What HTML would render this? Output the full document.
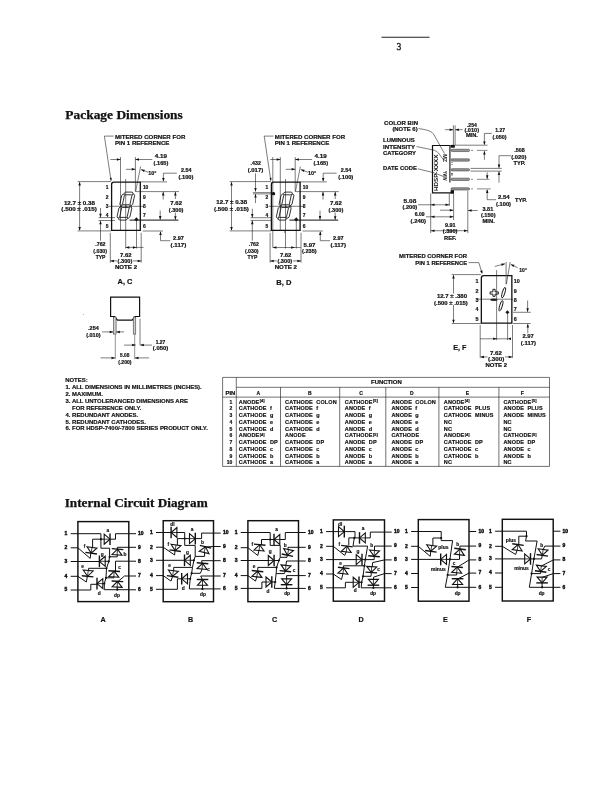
<!DOCTYPE html>
<html><head><meta charset="utf-8"><style>
html,body{margin:0;padding:0;background:#fff;}
svg{display:block;will-change:transform;}
</style></head><body>
<svg width="612" height="792" viewBox="0 0 612 792">
<line x1="381.50" y1="37.20" x2="429.50" y2="37.20" stroke="#222" stroke-width="1.1"/>
<text x="396.60" y="49.80" font-family="Liberation Serif" font-weight="normal" font-size="9.6" text-anchor="start" fill="#222" stroke="#222" stroke-width="0.35">3</text>
<text x="65.30" y="118.80" font-family="Liberation Serif" font-weight="bold" font-size="12.2" text-anchor="start" fill="#111" textLength="117.50" lengthAdjust="spacingAndGlyphs" stroke="#111" stroke-width="0.25">Package Dimensions</text>
<text x="64.70" y="506.80" font-family="Liberation Serif" font-weight="bold" font-size="12.0" text-anchor="start" fill="#111" textLength="143.00" lengthAdjust="spacingAndGlyphs" stroke="#111" stroke-width="0.25">Internal Circuit Diagram</text>
<polyline points="113.60,136.10 104.40,136.10 111.00,180.60" fill="none" stroke="#111" stroke-width="0.55" stroke-linejoin="miter"/>
<polygon points="111.20,181.00 109.74,177.98 111.72,177.69" fill="#111"/>
<text x="115.00" y="138.90" font-family="Liberation Sans" font-weight="bold" font-size="5.5" text-anchor="start" fill="#111" stroke="#111" stroke-width="0.18" textLength="70.30" lengthAdjust="spacingAndGlyphs">MITERED CORNER FOR</text>
<text x="115.00" y="145.10" font-family="Liberation Sans" font-weight="bold" font-size="5.5" text-anchor="start" fill="#111" stroke="#111" stroke-width="0.18" textLength="54.40" lengthAdjust="spacingAndGlyphs">PIN 1 REFERENCE</text>
<path d="M111.60,184.40 Q111.60,182.20 113.80,182.20 L140.30,182.20 L140.30,230.30 L111.60,230.30 Z" fill="none" stroke="#111" stroke-width="1.3"/>
<line x1="120.50" y1="157.00" x2="120.50" y2="230.00" stroke="#111" stroke-width="0.55"/>
<line x1="135.40" y1="157.00" x2="135.40" y2="191.70" stroke="#111" stroke-width="0.55"/>
<line x1="110.40" y1="159.50" x2="120.50" y2="159.50" stroke="#111" stroke-width="0.55"/>
<polygon points="120.50,159.50 116.90,160.75 116.90,158.25" fill="#111"/>
<line x1="152.30" y1="159.50" x2="135.40" y2="159.50" stroke="#111" stroke-width="0.55"/>
<polygon points="135.40,159.50 139.00,158.25 139.00,160.75" fill="#111"/>
<line x1="125.90" y1="169.30" x2="135.40" y2="169.30" stroke="#111" stroke-width="0.55"/>
<polygon points="135.40,169.30 131.80,170.55 131.80,168.05" fill="#111"/>
<line x1="140.60" y1="166.50" x2="135.60" y2="191.70" stroke="#111" stroke-width="0.55"/>
<line x1="148.00" y1="172.20" x2="141.00" y2="169.60" stroke="#111" stroke-width="0.55"/>
<polygon points="141.00,169.60 144.81,169.68 143.94,172.03" fill="#111"/>
<text x="154.70" y="157.70" font-family="Liberation Sans" font-weight="bold" font-size="4.9" text-anchor="start" fill="#111" stroke="#111" stroke-width="0.18" textLength="12.30" lengthAdjust="spacingAndGlyphs">4.19</text>
<text x="153.60" y="164.70" font-family="Liberation Sans" font-weight="bold" font-size="4.9" text-anchor="start" fill="#111" stroke="#111" stroke-width="0.18" textLength="14.70" lengthAdjust="spacingAndGlyphs">(.165)</text>
<text x="148.20" y="174.90" font-family="Liberation Sans" font-weight="bold" font-size="4.9" text-anchor="start" fill="#111" stroke="#111" stroke-width="0.18" textLength="8.20" lengthAdjust="spacingAndGlyphs">10°</text>
<text x="180.90" y="171.70" font-family="Liberation Sans" font-weight="bold" font-size="4.9" text-anchor="start" fill="#111" stroke="#111" stroke-width="0.18" textLength="10.60" lengthAdjust="spacingAndGlyphs">2.54</text>
<text x="178.40" y="178.60" font-family="Liberation Sans" font-weight="bold" font-size="4.9" text-anchor="start" fill="#111" stroke="#111" stroke-width="0.18" textLength="15.10" lengthAdjust="spacingAndGlyphs">(.100)</text>
<polyline points="176.80,173.20 163.40,173.20 163.40,181.00" fill="none" stroke="#111" stroke-width="0.55" stroke-linejoin="miter"/>
<polygon points="163.40,181.60 162.15,178.00 164.65,178.00" fill="#111"/>
<line x1="140.30" y1="181.90" x2="167.00" y2="181.90" stroke="#111" stroke-width="0.55"/>
<line x1="125.70" y1="179.00" x2="125.70" y2="248.50" stroke="#111" stroke-width="0.55"/>
<line x1="136.50" y1="219.40" x2="136.50" y2="248.50" stroke="#111" stroke-width="0.55"/>
<line x1="109.00" y1="206.30" x2="144.00" y2="206.30" stroke="#111" stroke-width="0.55"/>
<line x1="136.00" y1="191.60" x2="179.00" y2="191.60" stroke="#111" stroke-width="0.55"/>
<line x1="129.60" y1="220.10" x2="178.40" y2="220.10" stroke="#111" stroke-width="1.0"/>
<line x1="175.40" y1="199.00" x2="175.40" y2="191.80" stroke="#111" stroke-width="0.55"/>
<polygon points="175.40,191.80 176.65,195.40 174.15,195.40" fill="#111"/>
<line x1="175.40" y1="212.50" x2="175.40" y2="219.80" stroke="#111" stroke-width="0.55"/>
<polygon points="175.40,219.80 174.15,216.20 176.65,216.20" fill="#111"/>
<line x1="163.20" y1="199.50" x2="163.20" y2="191.80" stroke="#111" stroke-width="0.55"/>
<polygon points="163.20,191.80 164.45,195.40 161.95,195.40" fill="#111"/>
<line x1="160.20" y1="210.50" x2="160.20" y2="219.70" stroke="#111" stroke-width="0.55"/>
<polygon points="160.20,219.70 158.95,216.10 161.45,216.10" fill="#111"/>
<text x="170.30" y="204.50" font-family="Liberation Sans" font-weight="bold" font-size="4.9" text-anchor="start" fill="#111" stroke="#111" stroke-width="0.18" textLength="11.70" lengthAdjust="spacingAndGlyphs">7.62</text>
<text x="168.80" y="211.50" font-family="Liberation Sans" font-weight="bold" font-size="4.9" text-anchor="start" fill="#111" stroke="#111" stroke-width="0.18" textLength="14.70" lengthAdjust="spacingAndGlyphs">(.300)</text>
<line x1="142.70" y1="231.00" x2="163.00" y2="231.00" stroke="#111" stroke-width="0.55"/>
<polyline points="170.20,240.70 160.50,240.70 160.50,232.00" fill="none" stroke="#111" stroke-width="0.55" stroke-linejoin="miter"/>
<polygon points="160.50,231.30 161.75,234.90 159.25,234.90" fill="#111"/>
<text x="173.10" y="239.80" font-family="Liberation Sans" font-weight="bold" font-size="4.9" text-anchor="start" fill="#111" stroke="#111" stroke-width="0.18" textLength="10.80" lengthAdjust="spacingAndGlyphs">2.97</text>
<text x="170.60" y="246.70" font-family="Liberation Sans" font-weight="bold" font-size="4.9" text-anchor="start" fill="#111" stroke="#111" stroke-width="0.18" textLength="15.70" lengthAdjust="spacingAndGlyphs">(.117)</text>
<text x="108.50" y="188.80" font-family="Liberation Sans" font-weight="bold" font-size="4.9" text-anchor="end" fill="#111" stroke="#111" stroke-width="0.18">1</text>
<text x="142.90" y="188.80" font-family="Liberation Sans" font-weight="bold" font-size="4.9" text-anchor="start" fill="#111" stroke="#111" stroke-width="0.18">10</text>
<text x="108.50" y="199.00" font-family="Liberation Sans" font-weight="bold" font-size="4.9" text-anchor="end" fill="#111" stroke="#111" stroke-width="0.18">2</text>
<text x="142.90" y="199.00" font-family="Liberation Sans" font-weight="bold" font-size="4.9" text-anchor="start" fill="#111" stroke="#111" stroke-width="0.18">9</text>
<text x="108.50" y="208.00" font-family="Liberation Sans" font-weight="bold" font-size="4.9" text-anchor="end" fill="#111" stroke="#111" stroke-width="0.18">3</text>
<text x="142.90" y="208.00" font-family="Liberation Sans" font-weight="bold" font-size="4.9" text-anchor="start" fill="#111" stroke="#111" stroke-width="0.18">8</text>
<text x="108.50" y="216.50" font-family="Liberation Sans" font-weight="bold" font-size="4.9" text-anchor="end" fill="#111" stroke="#111" stroke-width="0.18">4</text>
<text x="142.90" y="216.50" font-family="Liberation Sans" font-weight="bold" font-size="4.9" text-anchor="start" fill="#111" stroke="#111" stroke-width="0.18">7</text>
<text x="108.50" y="227.70" font-family="Liberation Sans" font-weight="bold" font-size="4.9" text-anchor="end" fill="#111" stroke="#111" stroke-width="0.18">5</text>
<text x="142.90" y="227.70" font-family="Liberation Sans" font-weight="bold" font-size="4.9" text-anchor="start" fill="#111" stroke="#111" stroke-width="0.18">6</text>
<polygon points="124.01,193.45 125.66,192.10 132.16,192.10 133.21,193.45 131.57,194.80 125.07,194.80" fill="none" stroke="#111" stroke-width="0.85" stroke-linejoin="miter"/>
<polygon points="121.23,206.10 122.88,204.75 129.38,204.75 130.43,206.10 128.78,207.45 122.28,207.45" fill="none" stroke="#111" stroke-width="0.85" stroke-linejoin="miter"/>
<polygon points="118.45,218.75 120.09,217.40 126.59,217.40 127.65,218.75 126.00,220.10 119.50,220.10" fill="none" stroke="#111" stroke-width="0.85" stroke-linejoin="miter"/>
<polygon points="118.06,218.25 119.70,216.90 121.67,207.95 120.62,206.60 118.97,207.95 117.00,216.90" fill="none" stroke="#111" stroke-width="0.85" stroke-linejoin="miter"/>
<polygon points="128.26,218.25 129.90,216.90 131.87,207.95 130.82,206.60 129.17,207.95 127.20,216.90" fill="none" stroke="#111" stroke-width="0.85" stroke-linejoin="miter"/>
<polygon points="120.84,205.60 122.49,204.25 124.46,195.30 123.40,193.95 121.76,195.30 119.79,204.25" fill="none" stroke="#111" stroke-width="0.85" stroke-linejoin="miter"/>
<polygon points="131.04,205.60 132.69,204.25 134.66,195.30 133.60,193.95 131.96,195.30 129.99,204.25" fill="none" stroke="#111" stroke-width="0.85" stroke-linejoin="miter"/>
<polygon points="136.40,217.50 138.30,219.40 136.40,221.30 134.50,219.40" fill="#111" stroke="#111" stroke-width="0.3" stroke-linejoin="miter"/>
<circle cx="121.10" cy="206.30" r="0.8" fill="#333"/>
<circle cx="126.00" cy="206.30" r="0.8" fill="#333"/>
<circle cx="131.00" cy="206.30" r="0.8" fill="#333"/>
<line x1="110.30" y1="232.80" x2="110.30" y2="262.70" stroke="#111" stroke-width="0.55"/>
<line x1="141.20" y1="232.80" x2="141.20" y2="262.70" stroke="#111" stroke-width="0.55"/>
<text x="120.10" y="256.70" font-family="Liberation Sans" font-weight="bold" font-size="4.9" text-anchor="start" fill="#111" stroke="#111" stroke-width="0.18" textLength="11.50" lengthAdjust="spacingAndGlyphs">7.62</text>
<text x="117.60" y="262.80" font-family="Liberation Sans" font-weight="bold" font-size="4.9" text-anchor="start" fill="#111" stroke="#111" stroke-width="0.18" textLength="14.80" lengthAdjust="spacingAndGlyphs">(.300)</text>
<text x="114.90" y="269.00" font-family="Liberation Sans" font-weight="bold" font-size="4.9" text-anchor="start" fill="#111" stroke="#111" stroke-width="0.18" textLength="22.20" lengthAdjust="spacingAndGlyphs">NOTE 2</text>
<line x1="117.00" y1="260.90" x2="110.30" y2="260.90" stroke="#111" stroke-width="0.55"/>
<polygon points="110.30,260.90 113.90,259.65 113.90,262.15" fill="#111"/>
<line x1="133.00" y1="260.90" x2="141.20" y2="260.90" stroke="#111" stroke-width="0.55"/>
<polygon points="141.20,260.90 137.60,262.15 137.60,259.65" fill="#111"/>
<line x1="125.70" y1="247.40" x2="143.60" y2="247.40" stroke="#111" stroke-width="0.55"/>
<polygon points="125.70,247.40 129.30,246.15 129.30,248.65" fill="#111"/>
<polygon points="136.50,247.40 132.90,248.65 132.90,246.15" fill="#111"/>
<line x1="77.60" y1="181.60" x2="111.00" y2="181.60" stroke="#111" stroke-width="0.55"/>
<line x1="77.60" y1="230.90" x2="111.00" y2="230.90" stroke="#111" stroke-width="0.55"/>
<line x1="79.60" y1="182.50" x2="79.60" y2="230.00" stroke="#111" stroke-width="0.55"/>
<polygon points="79.60,181.80 80.85,185.40 78.35,185.40" fill="#111"/>
<polygon points="79.60,230.70 78.35,227.10 80.85,227.10" fill="#111"/>
<text x="63.90" y="204.50" font-family="Liberation Sans" font-weight="bold" font-size="4.9" text-anchor="start" fill="#111" stroke="#111" stroke-width="0.18" textLength="31.10" lengthAdjust="spacingAndGlyphs">12.7 ± 0.38</text>
<text x="61.30" y="211.40" font-family="Liberation Sans" font-weight="bold" font-size="4.9" text-anchor="start" fill="#111" stroke="#111" stroke-width="0.18" textLength="35.60" lengthAdjust="spacingAndGlyphs">(.500 ± .015)</text>
<line x1="98.60" y1="217.60" x2="115.00" y2="217.60" stroke="#111" stroke-width="0.55"/>
<line x1="98.60" y1="220.50" x2="115.00" y2="220.50" stroke="#111" stroke-width="0.55"/>
<line x1="100.50" y1="208.00" x2="100.50" y2="217.40" stroke="#111" stroke-width="0.55"/>
<polygon points="100.50,217.40 99.25,213.80 101.75,213.80" fill="#111"/>
<line x1="100.50" y1="240.70" x2="100.50" y2="220.70" stroke="#111" stroke-width="0.55"/>
<polygon points="100.50,220.70 101.75,224.30 99.25,224.30" fill="#111"/>
<text x="95.30" y="246.30" font-family="Liberation Sans" font-weight="bold" font-size="4.9" text-anchor="start" fill="#111" stroke="#111" stroke-width="0.18" textLength="10.20" lengthAdjust="spacingAndGlyphs">.762</text>
<text x="93.30" y="252.60" font-family="Liberation Sans" font-weight="bold" font-size="4.9" text-anchor="start" fill="#111" stroke="#111" stroke-width="0.18" textLength="13.70" lengthAdjust="spacingAndGlyphs">(.030)</text>
<text x="95.70" y="259.10" font-family="Liberation Sans" font-weight="bold" font-size="4.9" text-anchor="start" fill="#111" stroke="#111" stroke-width="0.18" textLength="9.80" lengthAdjust="spacingAndGlyphs">TYP</text>
<text x="117.60" y="284.30" font-family="Liberation Sans" font-weight="bold" font-size="7.2" text-anchor="start" fill="#111" stroke="#111" stroke-width="0.18" textLength="14.90" lengthAdjust="spacingAndGlyphs">A, C</text>
<polyline points="273.40,136.10 264.20,136.10 270.80,180.60" fill="none" stroke="#111" stroke-width="0.55" stroke-linejoin="miter"/>
<polygon points="271.00,181.00 269.54,177.98 271.52,177.69" fill="#111"/>
<text x="274.80" y="138.90" font-family="Liberation Sans" font-weight="bold" font-size="5.5" text-anchor="start" fill="#111" stroke="#111" stroke-width="0.18" textLength="70.30" lengthAdjust="spacingAndGlyphs">MITERED CORNER FOR</text>
<text x="274.80" y="145.10" font-family="Liberation Sans" font-weight="bold" font-size="5.5" text-anchor="start" fill="#111" stroke="#111" stroke-width="0.18" textLength="54.40" lengthAdjust="spacingAndGlyphs">PIN 1 REFERENCE</text>
<path d="M271.40,184.40 Q271.40,182.20 273.60,182.20 L300.10,182.20 L300.10,230.30 L271.40,230.30 Z" fill="none" stroke="#111" stroke-width="1.3"/>
<line x1="280.30" y1="157.00" x2="280.30" y2="230.00" stroke="#111" stroke-width="0.55"/>
<line x1="295.20" y1="157.00" x2="295.20" y2="191.70" stroke="#111" stroke-width="0.55"/>
<line x1="270.20" y1="159.50" x2="280.30" y2="159.50" stroke="#111" stroke-width="0.55"/>
<polygon points="280.30,159.50 276.70,160.75 276.70,158.25" fill="#111"/>
<line x1="312.10" y1="159.50" x2="295.20" y2="159.50" stroke="#111" stroke-width="0.55"/>
<polygon points="295.20,159.50 298.80,158.25 298.80,160.75" fill="#111"/>
<line x1="285.70" y1="169.30" x2="295.20" y2="169.30" stroke="#111" stroke-width="0.55"/>
<polygon points="295.20,169.30 291.60,170.55 291.60,168.05" fill="#111"/>
<line x1="300.40" y1="166.50" x2="295.40" y2="191.70" stroke="#111" stroke-width="0.55"/>
<line x1="307.80" y1="172.20" x2="300.80" y2="169.60" stroke="#111" stroke-width="0.55"/>
<polygon points="300.80,169.60 304.61,169.68 303.74,172.03" fill="#111"/>
<text x="314.50" y="157.70" font-family="Liberation Sans" font-weight="bold" font-size="4.9" text-anchor="start" fill="#111" stroke="#111" stroke-width="0.18" textLength="12.30" lengthAdjust="spacingAndGlyphs">4.19</text>
<text x="313.40" y="164.70" font-family="Liberation Sans" font-weight="bold" font-size="4.9" text-anchor="start" fill="#111" stroke="#111" stroke-width="0.18" textLength="14.70" lengthAdjust="spacingAndGlyphs">(.165)</text>
<text x="308.00" y="174.90" font-family="Liberation Sans" font-weight="bold" font-size="4.9" text-anchor="start" fill="#111" stroke="#111" stroke-width="0.18" textLength="8.20" lengthAdjust="spacingAndGlyphs">10°</text>
<text x="340.70" y="171.70" font-family="Liberation Sans" font-weight="bold" font-size="4.9" text-anchor="start" fill="#111" stroke="#111" stroke-width="0.18" textLength="10.60" lengthAdjust="spacingAndGlyphs">2.54</text>
<text x="338.20" y="178.60" font-family="Liberation Sans" font-weight="bold" font-size="4.9" text-anchor="start" fill="#111" stroke="#111" stroke-width="0.18" textLength="15.10" lengthAdjust="spacingAndGlyphs">(.100)</text>
<polyline points="336.60,173.20 323.20,173.20 323.20,181.00" fill="none" stroke="#111" stroke-width="0.55" stroke-linejoin="miter"/>
<polygon points="323.20,181.60 321.95,178.00 324.45,178.00" fill="#111"/>
<line x1="300.10" y1="181.90" x2="326.80" y2="181.90" stroke="#111" stroke-width="0.55"/>
<line x1="285.50" y1="179.00" x2="285.50" y2="248.50" stroke="#111" stroke-width="0.55"/>
<line x1="296.30" y1="219.40" x2="296.30" y2="248.50" stroke="#111" stroke-width="0.55"/>
<line x1="268.80" y1="206.30" x2="303.80" y2="206.30" stroke="#111" stroke-width="0.55"/>
<line x1="295.80" y1="191.60" x2="338.80" y2="191.60" stroke="#111" stroke-width="0.55"/>
<line x1="289.40" y1="220.10" x2="338.20" y2="220.10" stroke="#111" stroke-width="1.0"/>
<line x1="335.20" y1="199.00" x2="335.20" y2="191.80" stroke="#111" stroke-width="0.55"/>
<polygon points="335.20,191.80 336.45,195.40 333.95,195.40" fill="#111"/>
<line x1="335.20" y1="212.50" x2="335.20" y2="219.80" stroke="#111" stroke-width="0.55"/>
<polygon points="335.20,219.80 333.95,216.20 336.45,216.20" fill="#111"/>
<line x1="323.00" y1="199.50" x2="323.00" y2="191.80" stroke="#111" stroke-width="0.55"/>
<polygon points="323.00,191.80 324.25,195.40 321.75,195.40" fill="#111"/>
<line x1="320.00" y1="210.50" x2="320.00" y2="219.70" stroke="#111" stroke-width="0.55"/>
<polygon points="320.00,219.70 318.75,216.10 321.25,216.10" fill="#111"/>
<text x="330.10" y="204.50" font-family="Liberation Sans" font-weight="bold" font-size="4.9" text-anchor="start" fill="#111" stroke="#111" stroke-width="0.18" textLength="11.70" lengthAdjust="spacingAndGlyphs">7.62</text>
<text x="328.60" y="211.50" font-family="Liberation Sans" font-weight="bold" font-size="4.9" text-anchor="start" fill="#111" stroke="#111" stroke-width="0.18" textLength="14.70" lengthAdjust="spacingAndGlyphs">(.300)</text>
<line x1="302.50" y1="231.00" x2="322.80" y2="231.00" stroke="#111" stroke-width="0.55"/>
<polyline points="330.00,240.70 320.30,240.70 320.30,232.00" fill="none" stroke="#111" stroke-width="0.55" stroke-linejoin="miter"/>
<polygon points="320.30,231.30 321.55,234.90 319.05,234.90" fill="#111"/>
<text x="332.90" y="239.80" font-family="Liberation Sans" font-weight="bold" font-size="4.9" text-anchor="start" fill="#111" stroke="#111" stroke-width="0.18" textLength="10.80" lengthAdjust="spacingAndGlyphs">2.97</text>
<text x="330.40" y="246.70" font-family="Liberation Sans" font-weight="bold" font-size="4.9" text-anchor="start" fill="#111" stroke="#111" stroke-width="0.18" textLength="15.70" lengthAdjust="spacingAndGlyphs">(.117)</text>
<text x="268.30" y="188.80" font-family="Liberation Sans" font-weight="bold" font-size="4.9" text-anchor="end" fill="#111" stroke="#111" stroke-width="0.18">1</text>
<text x="302.70" y="188.80" font-family="Liberation Sans" font-weight="bold" font-size="4.9" text-anchor="start" fill="#111" stroke="#111" stroke-width="0.18">10</text>
<text x="268.30" y="199.00" font-family="Liberation Sans" font-weight="bold" font-size="4.9" text-anchor="end" fill="#111" stroke="#111" stroke-width="0.18">2</text>
<text x="302.70" y="199.00" font-family="Liberation Sans" font-weight="bold" font-size="4.9" text-anchor="start" fill="#111" stroke="#111" stroke-width="0.18">9</text>
<text x="268.30" y="208.00" font-family="Liberation Sans" font-weight="bold" font-size="4.9" text-anchor="end" fill="#111" stroke="#111" stroke-width="0.18">3</text>
<text x="302.70" y="208.00" font-family="Liberation Sans" font-weight="bold" font-size="4.9" text-anchor="start" fill="#111" stroke="#111" stroke-width="0.18">8</text>
<text x="268.30" y="216.50" font-family="Liberation Sans" font-weight="bold" font-size="4.9" text-anchor="end" fill="#111" stroke="#111" stroke-width="0.18">4</text>
<text x="302.70" y="216.50" font-family="Liberation Sans" font-weight="bold" font-size="4.9" text-anchor="start" fill="#111" stroke="#111" stroke-width="0.18">7</text>
<text x="268.30" y="227.70" font-family="Liberation Sans" font-weight="bold" font-size="4.9" text-anchor="end" fill="#111" stroke="#111" stroke-width="0.18">5</text>
<text x="302.70" y="227.70" font-family="Liberation Sans" font-weight="bold" font-size="4.9" text-anchor="start" fill="#111" stroke="#111" stroke-width="0.18">6</text>
<polygon points="283.31,193.45 284.96,192.10 291.46,192.10 292.51,193.45 290.87,194.80 284.37,194.80" fill="none" stroke="#111" stroke-width="0.85" stroke-linejoin="miter"/>
<polygon points="280.53,206.10 282.18,204.75 288.68,204.75 289.73,206.10 288.08,207.45 281.58,207.45" fill="none" stroke="#111" stroke-width="0.85" stroke-linejoin="miter"/>
<polygon points="277.75,218.75 279.39,217.40 285.89,217.40 286.95,218.75 285.30,220.10 278.80,220.10" fill="none" stroke="#111" stroke-width="0.85" stroke-linejoin="miter"/>
<polygon points="277.36,218.25 279.00,216.90 280.97,207.95 279.92,206.60 278.27,207.95 276.30,216.90" fill="none" stroke="#111" stroke-width="0.85" stroke-linejoin="miter"/>
<polygon points="287.56,218.25 289.20,216.90 291.17,207.95 290.12,206.60 288.47,207.95 286.50,216.90" fill="none" stroke="#111" stroke-width="0.85" stroke-linejoin="miter"/>
<polygon points="280.14,205.60 281.79,204.25 283.76,195.30 282.70,193.95 281.06,195.30 279.09,204.25" fill="none" stroke="#111" stroke-width="0.85" stroke-linejoin="miter"/>
<polygon points="290.34,205.60 291.99,204.25 293.96,195.30 292.90,193.95 291.26,195.30 289.29,204.25" fill="none" stroke="#111" stroke-width="0.85" stroke-linejoin="miter"/>
<polygon points="296.20,217.50 298.10,219.40 296.20,221.30 294.30,219.40" fill="#111" stroke="#111" stroke-width="0.3" stroke-linejoin="miter"/>
<circle cx="280.90" cy="206.30" r="0.8" fill="#333"/>
<circle cx="285.80" cy="206.30" r="0.8" fill="#333"/>
<circle cx="290.80" cy="206.30" r="0.8" fill="#333"/>
<line x1="270.10" y1="232.80" x2="270.10" y2="262.70" stroke="#111" stroke-width="0.55"/>
<line x1="301.00" y1="232.80" x2="301.00" y2="262.70" stroke="#111" stroke-width="0.55"/>
<text x="279.90" y="256.70" font-family="Liberation Sans" font-weight="bold" font-size="4.9" text-anchor="start" fill="#111" stroke="#111" stroke-width="0.18" textLength="11.50" lengthAdjust="spacingAndGlyphs">7.62</text>
<text x="277.40" y="262.80" font-family="Liberation Sans" font-weight="bold" font-size="4.9" text-anchor="start" fill="#111" stroke="#111" stroke-width="0.18" textLength="14.80" lengthAdjust="spacingAndGlyphs">(.300)</text>
<text x="274.70" y="269.00" font-family="Liberation Sans" font-weight="bold" font-size="4.9" text-anchor="start" fill="#111" stroke="#111" stroke-width="0.18" textLength="22.20" lengthAdjust="spacingAndGlyphs">NOTE 2</text>
<line x1="276.80" y1="260.90" x2="270.10" y2="260.90" stroke="#111" stroke-width="0.55"/>
<polygon points="270.10,260.90 273.70,259.65 273.70,262.15" fill="#111"/>
<line x1="292.80" y1="260.90" x2="301.00" y2="260.90" stroke="#111" stroke-width="0.55"/>
<polygon points="301.00,260.90 297.40,262.15 297.40,259.65" fill="#111"/>
<line x1="272.80" y1="157.00" x2="272.80" y2="247.50" stroke="#111" stroke-width="0.55"/>
<line x1="284.80" y1="230.00" x2="284.80" y2="233.00" stroke="#111" stroke-width="0.55"/>
<line x1="272.80" y1="247.50" x2="300.80" y2="247.50" stroke="#111" stroke-width="0.55"/>
<polygon points="272.80,247.50 276.40,246.25 276.40,248.75" fill="#111"/>
<polygon points="294.80,247.50 291.20,248.75 291.20,246.25" fill="#111"/>
<text x="303.60" y="246.50" font-family="Liberation Sans" font-weight="bold" font-size="4.9" text-anchor="start" fill="#111" stroke="#111" stroke-width="0.18" textLength="11.80" lengthAdjust="spacingAndGlyphs">5.97</text>
<text x="302.00" y="253.00" font-family="Liberation Sans" font-weight="bold" font-size="4.9" text-anchor="start" fill="#111" stroke="#111" stroke-width="0.18" textLength="14.70" lengthAdjust="spacingAndGlyphs">(.235)</text>
<line x1="229.60" y1="181.60" x2="271.00" y2="181.60" stroke="#111" stroke-width="0.55"/>
<line x1="229.60" y1="230.90" x2="271.00" y2="230.90" stroke="#111" stroke-width="0.55"/>
<line x1="231.50" y1="182.50" x2="231.50" y2="230.00" stroke="#111" stroke-width="0.55"/>
<polygon points="231.50,181.80 232.75,185.40 230.25,185.40" fill="#111"/>
<polygon points="231.50,230.70 230.25,227.10 232.75,227.10" fill="#111"/>
<text x="216.30" y="204.40" font-family="Liberation Sans" font-weight="bold" font-size="4.9" text-anchor="start" fill="#111" stroke="#111" stroke-width="0.18" textLength="30.90" lengthAdjust="spacingAndGlyphs">12.7 ± 0.38</text>
<text x="214.00" y="211.30" font-family="Liberation Sans" font-weight="bold" font-size="4.9" text-anchor="start" fill="#111" stroke="#111" stroke-width="0.18" textLength="34.90" lengthAdjust="spacingAndGlyphs">(.500 ± .015)</text>
<text x="250.60" y="165.10" font-family="Liberation Sans" font-weight="bold" font-size="4.9" text-anchor="start" fill="#111" stroke="#111" stroke-width="0.18" textLength="10.30" lengthAdjust="spacingAndGlyphs">.432</text>
<text x="247.70" y="171.90" font-family="Liberation Sans" font-weight="bold" font-size="4.9" text-anchor="start" fill="#111" stroke="#111" stroke-width="0.18" textLength="15.50" lengthAdjust="spacingAndGlyphs">(.017)</text>
<line x1="255.50" y1="173.30" x2="255.50" y2="191.60" stroke="#111" stroke-width="0.55"/>
<polygon points="255.50,191.60 254.25,188.00 256.75,188.00" fill="#111"/>
<line x1="255.50" y1="203.00" x2="255.50" y2="194.00" stroke="#111" stroke-width="0.55"/>
<polygon points="255.50,194.00 256.75,197.60 254.25,197.60" fill="#111"/>
<line x1="252.90" y1="192.60" x2="274.00" y2="192.60" stroke="#111" stroke-width="0.55"/>
<line x1="252.90" y1="193.90" x2="274.00" y2="193.90" stroke="#111" stroke-width="0.55"/>
<circle cx="273.60" cy="193.70" r="1.6" fill="#111"/>
<line x1="250.60" y1="217.70" x2="271.00" y2="217.70" stroke="#111" stroke-width="0.55"/>
<line x1="250.60" y1="220.40" x2="271.00" y2="220.40" stroke="#111" stroke-width="0.55"/>
<line x1="252.30" y1="208.80" x2="252.30" y2="217.50" stroke="#111" stroke-width="0.55"/>
<polygon points="252.30,217.50 251.05,213.90 253.55,213.90" fill="#111"/>
<line x1="252.30" y1="240.70" x2="252.30" y2="220.60" stroke="#111" stroke-width="0.55"/>
<polygon points="252.30,220.60 253.55,224.20 251.05,224.20" fill="#111"/>
<text x="248.80" y="246.30" font-family="Liberation Sans" font-weight="bold" font-size="4.9" text-anchor="start" fill="#111" stroke="#111" stroke-width="0.18" textLength="10.00" lengthAdjust="spacingAndGlyphs">.762</text>
<text x="244.90" y="252.60" font-family="Liberation Sans" font-weight="bold" font-size="4.9" text-anchor="start" fill="#111" stroke="#111" stroke-width="0.18" textLength="13.70" lengthAdjust="spacingAndGlyphs">(.030)</text>
<text x="247.50" y="259.10" font-family="Liberation Sans" font-weight="bold" font-size="4.9" text-anchor="start" fill="#111" stroke="#111" stroke-width="0.18" textLength="9.80" lengthAdjust="spacingAndGlyphs">TYP</text>
<text x="276.30" y="284.80" font-family="Liberation Sans" font-weight="bold" font-size="7.2" text-anchor="start" fill="#111" stroke="#111" stroke-width="0.18" textLength="15.10" lengthAdjust="spacingAndGlyphs">B, D</text>
<rect x="77.90" y="521.60" width="50.90" height="80.00" fill="none" stroke="#111" stroke-width="1.45"/>
<line x1="70.70" y1="533.70" x2="77.90" y2="533.70" stroke="#111" stroke-width="1.0"/>
<text x="67.30" y="535.05" font-family="Liberation Sans" font-weight="bold" font-size="5.0" text-anchor="end" fill="#111" stroke="#111" stroke-width="0.18" style="stroke-width:0.4px">1</text>
<line x1="70.70" y1="547.80" x2="77.90" y2="547.80" stroke="#111" stroke-width="1.0"/>
<text x="67.30" y="549.15" font-family="Liberation Sans" font-weight="bold" font-size="5.0" text-anchor="end" fill="#111" stroke="#111" stroke-width="0.18" style="stroke-width:0.4px">2</text>
<line x1="70.70" y1="561.50" x2="77.90" y2="561.50" stroke="#111" stroke-width="1.0"/>
<text x="67.30" y="562.85" font-family="Liberation Sans" font-weight="bold" font-size="5.0" text-anchor="end" fill="#111" stroke="#111" stroke-width="0.18" style="stroke-width:0.4px">3</text>
<line x1="70.70" y1="576.30" x2="77.90" y2="576.30" stroke="#111" stroke-width="1.0"/>
<text x="67.30" y="577.65" font-family="Liberation Sans" font-weight="bold" font-size="5.0" text-anchor="end" fill="#111" stroke="#111" stroke-width="0.18" style="stroke-width:0.4px">4</text>
<line x1="70.70" y1="590.00" x2="77.90" y2="590.00" stroke="#111" stroke-width="1.0"/>
<text x="67.30" y="591.35" font-family="Liberation Sans" font-weight="bold" font-size="5.0" text-anchor="end" fill="#111" stroke="#111" stroke-width="0.18" style="stroke-width:0.4px">5</text>
<line x1="128.80" y1="533.70" x2="136.00" y2="533.70" stroke="#111" stroke-width="1.0"/>
<text x="138.10" y="535.05" font-family="Liberation Sans" font-weight="bold" font-size="5.0" text-anchor="start" fill="#111" stroke="#111" stroke-width="0.18" style="stroke-width:0.4px">10</text>
<line x1="128.80" y1="547.30" x2="136.00" y2="547.30" stroke="#111" stroke-width="1.0"/>
<text x="138.10" y="548.65" font-family="Liberation Sans" font-weight="bold" font-size="5.0" text-anchor="start" fill="#111" stroke="#111" stroke-width="0.18" style="stroke-width:0.4px">9</text>
<line x1="128.80" y1="561.20" x2="136.00" y2="561.20" stroke="#111" stroke-width="1.0"/>
<text x="138.10" y="562.55" font-family="Liberation Sans" font-weight="bold" font-size="5.0" text-anchor="start" fill="#111" stroke="#111" stroke-width="0.18" style="stroke-width:0.4px">8</text>
<line x1="128.80" y1="576.00" x2="136.00" y2="576.00" stroke="#111" stroke-width="1.0"/>
<text x="138.10" y="577.35" font-family="Liberation Sans" font-weight="bold" font-size="5.0" text-anchor="start" fill="#111" stroke="#111" stroke-width="0.18" style="stroke-width:0.4px">7</text>
<line x1="128.80" y1="589.80" x2="136.00" y2="589.80" stroke="#111" stroke-width="1.0"/>
<text x="138.10" y="591.15" font-family="Liberation Sans" font-weight="bold" font-size="5.0" text-anchor="start" fill="#111" stroke="#111" stroke-width="0.18" style="stroke-width:0.4px">6</text>
<polyline points="77.90,533.70 100.90,533.70 100.90,548.20 109.60,548.20 109.60,556.80" fill="none" stroke="#111" stroke-width="1.0" stroke-linejoin="miter"/>
<polyline points="92.60,547.00 92.60,539.20 104.30,539.20" fill="none" stroke="#111" stroke-width="1.0" stroke-linejoin="miter"/>
<polygon points="104.20,544.20 104.20,534.20 110.00,539.20" fill="none" stroke="#111" stroke-width="1.1" stroke-linejoin="miter"/>
<line x1="104.20" y1="539.20" x2="110.00" y2="539.20" stroke="#111" stroke-width="0.8"/>
<line x1="110.00" y1="545.00" x2="110.00" y2="533.40" stroke="#111" stroke-width="1.4000000000000001"/>
<polyline points="109.80,539.20 115.50,539.20 115.50,533.70 128.80,533.70" fill="none" stroke="#111" stroke-width="1.0" stroke-linejoin="miter"/>
<polygon points="87.05,546.73 96.95,548.12 91.20,553.17" fill="none" stroke="#111" stroke-width="1.1" stroke-linejoin="miter"/>
<line x1="92.00" y1="547.43" x2="91.20" y2="553.17" stroke="#111" stroke-width="0.8"/>
<line x1="85.45" y1="552.36" x2="96.94" y2="553.98" stroke="#111" stroke-width="1.4000000000000001"/>
<polyline points="90.80,553.20 90.20,558.40 77.90,547.80" fill="none" stroke="#111" stroke-width="1.0" stroke-linejoin="miter"/>
<polygon points="122.03,555.32 112.07,554.45 117.55,549.11" fill="none" stroke="#111" stroke-width="1.1" stroke-linejoin="miter"/>
<line x1="117.05" y1="554.89" x2="117.55" y2="549.11" stroke="#111" stroke-width="0.8"/>
<line x1="123.33" y1="549.62" x2="111.77" y2="548.61" stroke="#111" stroke-width="1.4000000000000001"/>
<polyline points="117.30,549.20 117.30,547.30 128.80,547.30" fill="none" stroke="#111" stroke-width="1.0" stroke-linejoin="miter"/>
<polyline points="117.30,554.60 117.30,556.80 109.60,556.80" fill="none" stroke="#111" stroke-width="1.0" stroke-linejoin="miter"/>
<polygon points="105.20,556.30 105.20,566.30 99.40,561.30" fill="none" stroke="#111" stroke-width="1.1" stroke-linejoin="miter"/>
<line x1="105.20" y1="561.30" x2="99.40" y2="561.30" stroke="#111" stroke-width="0.8"/>
<line x1="99.40" y1="555.50" x2="99.40" y2="567.10" stroke="#111" stroke-width="1.4000000000000001"/>
<polyline points="99.60,561.50 77.90,561.50" fill="none" stroke="#111" stroke-width="1.0" stroke-linejoin="miter"/>
<polyline points="104.90,561.30 108.80,561.30" fill="none" stroke="#111" stroke-width="1.0" stroke-linejoin="miter"/>
<polyline points="109.60,556.80 108.80,561.50 106.50,568.30 106.00,577.80 104.30,583.60 104.30,589.70 128.80,589.70" fill="none" stroke="#111" stroke-width="1.0" stroke-linejoin="miter"/>
<polygon points="83.23,569.99 93.18,571.04 87.60,576.28" fill="none" stroke="#111" stroke-width="1.1" stroke-linejoin="miter"/>
<line x1="88.20" y1="570.52" x2="87.60" y2="576.28" stroke="#111" stroke-width="0.8"/>
<line x1="81.83" y1="575.68" x2="93.37" y2="576.89" stroke="#111" stroke-width="1.4000000000000001"/>
<polyline points="88.60,570.80 88.60,568.30 106.50,568.30" fill="none" stroke="#111" stroke-width="1.0" stroke-linejoin="miter"/>
<polyline points="87.40,576.20 86.30,582.00 77.90,576.30" fill="none" stroke="#111" stroke-width="1.0" stroke-linejoin="miter"/>
<polygon points="118.79,577.24 108.81,576.54 114.20,571.11" fill="none" stroke="#111" stroke-width="1.1" stroke-linejoin="miter"/>
<line x1="113.80" y1="576.89" x2="114.20" y2="571.11" stroke="#111" stroke-width="0.8"/>
<line x1="119.99" y1="571.51" x2="108.42" y2="570.70" stroke="#111" stroke-width="1.4000000000000001"/>
<polyline points="115.50,571.40 115.50,561.20 128.80,561.20" fill="none" stroke="#111" stroke-width="1.0" stroke-linejoin="miter"/>
<polyline points="114.00,576.60 114.00,577.80 106.00,577.80" fill="none" stroke="#111" stroke-width="1.0" stroke-linejoin="miter"/>
<polygon points="102.80,578.60 102.80,588.60 97.00,583.60" fill="none" stroke="#111" stroke-width="1.1" stroke-linejoin="miter"/>
<line x1="102.80" y1="583.60" x2="97.00" y2="583.60" stroke="#111" stroke-width="0.8"/>
<line x1="97.00" y1="577.80" x2="97.00" y2="589.40" stroke="#111" stroke-width="1.4000000000000001"/>
<polyline points="97.30,584.30 90.80,584.30 90.80,590.00 77.90,590.00" fill="none" stroke="#111" stroke-width="1.0" stroke-linejoin="miter"/>
<polyline points="102.50,583.60 104.30,583.60" fill="none" stroke="#111" stroke-width="1.0" stroke-linejoin="miter"/>
<polygon points="122.14,587.36 112.16,586.83 117.45,581.30" fill="none" stroke="#111" stroke-width="1.1" stroke-linejoin="miter"/>
<line x1="117.15" y1="587.10" x2="117.45" y2="581.30" stroke="#111" stroke-width="0.8"/>
<line x1="123.24" y1="581.61" x2="111.66" y2="581.00" stroke="#111" stroke-width="1.4000000000000001"/>
<polyline points="117.80,581.60 124.50,576.00 128.80,576.00" fill="none" stroke="#111" stroke-width="1.0" stroke-linejoin="miter"/>
<polyline points="117.30,586.80 117.30,589.70" fill="none" stroke="#111" stroke-width="1.0" stroke-linejoin="miter"/>
<circle cx="100.90" cy="539.20" r="1.1" fill="#111"/>
<circle cx="109.60" cy="556.80" r="1.1" fill="#111"/>
<circle cx="108.80" cy="561.40" r="1.1" fill="#111"/>
<circle cx="106.50" cy="568.30" r="1.1" fill="#111"/>
<circle cx="106.00" cy="577.80" r="1.1" fill="#111"/>
<circle cx="104.30" cy="583.60" r="1.1" fill="#111"/>
<circle cx="117.30" cy="589.70" r="1.1" fill="#111"/>
<text x="107.90" y="532.20" font-family="Liberation Sans" font-weight="bold" font-size="4.8" text-anchor="middle" fill="#111" stroke="#111" stroke-width="0.18">a</text>
<text x="84.50" y="548.30" font-family="Liberation Sans" font-weight="bold" font-size="4.8" text-anchor="middle" fill="#111" stroke="#111" stroke-width="0.18">f</text>
<text x="102.20" y="555.50" font-family="Liberation Sans" font-weight="bold" font-size="4.8" text-anchor="middle" fill="#111" stroke="#111" stroke-width="0.18">g</text>
<text x="125.00" y="556.40" font-family="Liberation Sans" font-weight="bold" font-size="4.8" text-anchor="middle" fill="#111" stroke="#111" stroke-width="0.18">b</text>
<text x="82.70" y="568.10" font-family="Liberation Sans" font-weight="bold" font-size="4.8" text-anchor="middle" fill="#111" stroke="#111" stroke-width="0.18">e</text>
<text x="119.60" y="569.00" font-family="Liberation Sans" font-weight="bold" font-size="4.8" text-anchor="middle" fill="#111" stroke="#111" stroke-width="0.18">c</text>
<text x="99.20" y="594.80" font-family="Liberation Sans" font-weight="bold" font-size="4.8" text-anchor="middle" fill="#111" stroke="#111" stroke-width="0.18">d</text>
<text x="116.90" y="596.60" font-family="Liberation Sans" font-weight="bold" font-size="4.8" text-anchor="middle" fill="#111" stroke="#111" stroke-width="0.18">dp</text>
<text x="103.15" y="621.50" font-family="Liberation Sans" font-weight="bold" font-size="7.2" text-anchor="middle" fill="#111" stroke="#111" stroke-width="0.18">A</text>
<rect x="163.20" y="520.70" width="50.30" height="81.00" fill="none" stroke="#111" stroke-width="1.45"/>
<line x1="156.00" y1="532.50" x2="163.20" y2="532.50" stroke="#111" stroke-width="1.0"/>
<text x="152.80" y="533.85" font-family="Liberation Sans" font-weight="bold" font-size="5.0" text-anchor="end" fill="#111" stroke="#111" stroke-width="0.18" style="stroke-width:0.4px">1</text>
<line x1="156.00" y1="547.20" x2="163.20" y2="547.20" stroke="#111" stroke-width="1.0"/>
<text x="152.80" y="548.55" font-family="Liberation Sans" font-weight="bold" font-size="5.0" text-anchor="end" fill="#111" stroke="#111" stroke-width="0.18" style="stroke-width:0.4px">2</text>
<line x1="156.00" y1="560.30" x2="163.20" y2="560.30" stroke="#111" stroke-width="1.0"/>
<text x="152.80" y="561.65" font-family="Liberation Sans" font-weight="bold" font-size="5.0" text-anchor="end" fill="#111" stroke="#111" stroke-width="0.18" style="stroke-width:0.4px">3</text>
<line x1="156.00" y1="575.60" x2="163.20" y2="575.60" stroke="#111" stroke-width="1.0"/>
<text x="152.80" y="576.95" font-family="Liberation Sans" font-weight="bold" font-size="5.0" text-anchor="end" fill="#111" stroke="#111" stroke-width="0.18" style="stroke-width:0.4px">4</text>
<line x1="156.00" y1="589.30" x2="163.20" y2="589.30" stroke="#111" stroke-width="1.0"/>
<text x="152.80" y="590.65" font-family="Liberation Sans" font-weight="bold" font-size="5.0" text-anchor="end" fill="#111" stroke="#111" stroke-width="0.18" style="stroke-width:0.4px">5</text>
<line x1="213.50" y1="533.10" x2="220.70" y2="533.10" stroke="#111" stroke-width="1.0"/>
<text x="222.90" y="534.45" font-family="Liberation Sans" font-weight="bold" font-size="5.0" text-anchor="start" fill="#111" stroke="#111" stroke-width="0.18" style="stroke-width:0.4px">10</text>
<line x1="213.50" y1="546.50" x2="220.70" y2="546.50" stroke="#111" stroke-width="1.0"/>
<text x="222.90" y="547.85" font-family="Liberation Sans" font-weight="bold" font-size="5.0" text-anchor="start" fill="#111" stroke="#111" stroke-width="0.18" style="stroke-width:0.4px">9</text>
<line x1="213.50" y1="560.70" x2="220.70" y2="560.70" stroke="#111" stroke-width="1.0"/>
<text x="222.90" y="562.05" font-family="Liberation Sans" font-weight="bold" font-size="5.0" text-anchor="start" fill="#111" stroke="#111" stroke-width="0.18" style="stroke-width:0.4px">8</text>
<line x1="213.50" y1="576.00" x2="220.70" y2="576.00" stroke="#111" stroke-width="1.0"/>
<text x="222.90" y="577.35" font-family="Liberation Sans" font-weight="bold" font-size="5.0" text-anchor="start" fill="#111" stroke="#111" stroke-width="0.18" style="stroke-width:0.4px">7</text>
<line x1="213.50" y1="588.90" x2="220.70" y2="588.90" stroke="#111" stroke-width="1.0"/>
<text x="222.90" y="590.25" font-family="Liberation Sans" font-weight="bold" font-size="5.0" text-anchor="start" fill="#111" stroke="#111" stroke-width="0.18" style="stroke-width:0.4px">6</text>
<polygon points="176.90,527.50 176.90,537.50 171.10,532.50" fill="none" stroke="#111" stroke-width="1.1" stroke-linejoin="miter"/>
<line x1="176.90" y1="532.50" x2="171.10" y2="532.50" stroke="#111" stroke-width="0.8"/>
<line x1="171.10" y1="526.70" x2="171.10" y2="538.30" stroke="#111" stroke-width="1.4000000000000001"/>
<polyline points="171.40,532.50 163.20,532.50" fill="none" stroke="#111" stroke-width="1.0" stroke-linejoin="miter"/>
<polyline points="176.60,532.50 184.70,532.50 184.70,545.40 195.20,545.40 195.20,556.40" fill="none" stroke="#111" stroke-width="1.0" stroke-linejoin="miter"/>
<polyline points="177.40,545.00 177.40,538.60 189.90,538.60" fill="none" stroke="#111" stroke-width="1.0" stroke-linejoin="miter"/>
<polygon points="189.50,543.60 189.50,533.60 195.30,538.60" fill="none" stroke="#111" stroke-width="1.1" stroke-linejoin="miter"/>
<line x1="189.50" y1="538.60" x2="195.30" y2="538.60" stroke="#111" stroke-width="0.8"/>
<line x1="195.30" y1="544.40" x2="195.30" y2="532.80" stroke="#111" stroke-width="1.4000000000000001"/>
<polyline points="195.00,538.60 201.60,538.60 201.60,533.10 213.50,533.10" fill="none" stroke="#111" stroke-width="1.0" stroke-linejoin="miter"/>
<polygon points="171.05,544.23 180.95,545.62 175.20,550.67" fill="none" stroke="#111" stroke-width="1.1" stroke-linejoin="miter"/>
<line x1="176.00" y1="544.93" x2="175.20" y2="550.67" stroke="#111" stroke-width="0.8"/>
<line x1="169.45" y1="549.86" x2="180.94" y2="551.48" stroke="#111" stroke-width="1.4000000000000001"/>
<polyline points="175.00,550.60 174.60,555.00 163.20,547.20" fill="none" stroke="#111" stroke-width="1.0" stroke-linejoin="miter"/>
<polygon points="208.95,553.62 199.25,551.20 205.50,546.79" fill="none" stroke="#111" stroke-width="1.1" stroke-linejoin="miter"/>
<line x1="204.10" y1="552.41" x2="205.50" y2="546.79" stroke="#111" stroke-width="0.8"/>
<line x1="211.13" y1="548.19" x2="199.87" y2="545.38" stroke="#111" stroke-width="1.4000000000000001"/>
<polyline points="205.70,547.00 213.00,546.50" fill="none" stroke="#111" stroke-width="1.0" stroke-linejoin="miter"/>
<polyline points="204.60,552.40 204.60,556.40 195.20,556.40" fill="none" stroke="#111" stroke-width="1.0" stroke-linejoin="miter"/>
<polygon points="190.30,555.30 190.30,565.30 184.50,560.30" fill="none" stroke="#111" stroke-width="1.1" stroke-linejoin="miter"/>
<line x1="190.30" y1="560.30" x2="184.50" y2="560.30" stroke="#111" stroke-width="0.8"/>
<line x1="184.50" y1="554.50" x2="184.50" y2="566.10" stroke="#111" stroke-width="1.4000000000000001"/>
<polyline points="184.80,560.30 163.20,560.30" fill="none" stroke="#111" stroke-width="1.0" stroke-linejoin="miter"/>
<polyline points="190.00,560.30 193.90,560.30" fill="none" stroke="#111" stroke-width="1.0" stroke-linejoin="miter"/>
<polyline points="195.20,556.40 193.90,560.30 192.50,567.40 191.60,573.30 190.20,578.80 189.30,588.90 213.50,588.90" fill="none" stroke="#111" stroke-width="1.0" stroke-linejoin="miter"/>
<polygon points="168.45,570.03 178.35,571.42 172.60,576.47" fill="none" stroke="#111" stroke-width="1.1" stroke-linejoin="miter"/>
<line x1="173.40" y1="570.73" x2="172.60" y2="576.47" stroke="#111" stroke-width="0.8"/>
<line x1="166.85" y1="575.66" x2="178.34" y2="577.28" stroke="#111" stroke-width="1.4000000000000001"/>
<polyline points="173.70,571.00 173.70,567.40 192.50,567.40" fill="none" stroke="#111" stroke-width="1.0" stroke-linejoin="miter"/>
<polyline points="172.60,576.30 171.00,581.10 163.20,575.60" fill="none" stroke="#111" stroke-width="1.0" stroke-linejoin="miter"/>
<polygon points="207.03,569.52 197.07,568.65 202.55,563.31" fill="none" stroke="#111" stroke-width="1.1" stroke-linejoin="miter"/>
<line x1="202.05" y1="569.09" x2="202.55" y2="563.31" stroke="#111" stroke-width="0.8"/>
<line x1="208.33" y1="563.82" x2="196.77" y2="562.81" stroke="#111" stroke-width="1.4000000000000001"/>
<polyline points="202.00,563.60 201.60,560.70 213.50,560.70" fill="none" stroke="#111" stroke-width="1.0" stroke-linejoin="miter"/>
<polyline points="202.30,568.80 200.30,573.30 191.60,573.30" fill="none" stroke="#111" stroke-width="1.0" stroke-linejoin="miter"/>
<polygon points="187.50,573.80 187.50,583.80 181.70,578.80" fill="none" stroke="#111" stroke-width="1.1" stroke-linejoin="miter"/>
<line x1="187.50" y1="578.80" x2="181.70" y2="578.80" stroke="#111" stroke-width="0.8"/>
<line x1="181.70" y1="573.00" x2="181.70" y2="584.60" stroke="#111" stroke-width="1.4000000000000001"/>
<polyline points="182.00,578.80 177.40,578.80 177.40,589.30 163.20,589.30" fill="none" stroke="#111" stroke-width="1.0" stroke-linejoin="miter"/>
<polyline points="187.20,578.80 190.20,578.80" fill="none" stroke="#111" stroke-width="1.0" stroke-linejoin="miter"/>
<polygon points="207.50,585.30 197.50,585.30 202.50,579.50" fill="none" stroke="#111" stroke-width="1.1" stroke-linejoin="miter"/>
<line x1="202.50" y1="585.30" x2="202.50" y2="579.50" stroke="#111" stroke-width="0.8"/>
<line x1="208.30" y1="579.50" x2="196.70" y2="579.50" stroke="#111" stroke-width="1.4000000000000001"/>
<polyline points="202.50,579.80 200.70,576.00 213.50,576.00" fill="none" stroke="#111" stroke-width="1.0" stroke-linejoin="miter"/>
<polyline points="202.50,585.00 202.50,588.90" fill="none" stroke="#111" stroke-width="1.0" stroke-linejoin="miter"/>
<circle cx="184.70" cy="538.60" r="1.1" fill="#111"/>
<circle cx="193.90" cy="560.30" r="1.1" fill="#111"/>
<circle cx="191.60" cy="573.30" r="1.1" fill="#111"/>
<circle cx="190.20" cy="578.80" r="1.1" fill="#111"/>
<circle cx="202.50" cy="588.90" r="1.1" fill="#111"/>
<text x="172.40" y="526.30" font-family="Liberation Sans" font-weight="bold" font-size="4.8" text-anchor="middle" fill="#111" stroke="#111" stroke-width="0.18">dl</text>
<text x="192.00" y="531.30" font-family="Liberation Sans" font-weight="bold" font-size="4.8" text-anchor="middle" fill="#111" stroke="#111" stroke-width="0.18">a</text>
<text x="168.40" y="545.90" font-family="Liberation Sans" font-weight="bold" font-size="4.8" text-anchor="middle" fill="#111" stroke="#111" stroke-width="0.18">f</text>
<text x="202.50" y="544.10" font-family="Liberation Sans" font-weight="bold" font-size="4.8" text-anchor="middle" fill="#111" stroke="#111" stroke-width="0.18">b</text>
<text x="187.40" y="553.80" font-family="Liberation Sans" font-weight="bold" font-size="4.8" text-anchor="middle" fill="#111" stroke="#111" stroke-width="0.18">g</text>
<text x="169.60" y="567.40" font-family="Liberation Sans" font-weight="bold" font-size="4.8" text-anchor="middle" fill="#111" stroke="#111" stroke-width="0.18">e</text>
<text x="208.50" y="571.00" font-family="Liberation Sans" font-weight="bold" font-size="4.8" text-anchor="middle" fill="#111" stroke="#111" stroke-width="0.18">c</text>
<text x="183.30" y="589.80" font-family="Liberation Sans" font-weight="bold" font-size="4.8" text-anchor="middle" fill="#111" stroke="#111" stroke-width="0.18">d</text>
<text x="203.00" y="596.20" font-family="Liberation Sans" font-weight="bold" font-size="4.8" text-anchor="middle" fill="#111" stroke="#111" stroke-width="0.18">dp</text>
<text x="190.60" y="621.50" font-family="Liberation Sans" font-weight="bold" font-size="7.2" text-anchor="middle" fill="#111" stroke="#111" stroke-width="0.18">B</text>
<rect x="247.90" y="520.70" width="50.60" height="81.00" fill="none" stroke="#111" stroke-width="1.45"/>
<line x1="240.70" y1="532.50" x2="247.90" y2="532.50" stroke="#111" stroke-width="1.0"/>
<text x="237.50" y="533.85" font-family="Liberation Sans" font-weight="bold" font-size="5.0" text-anchor="end" fill="#111" stroke="#111" stroke-width="0.18" style="stroke-width:0.4px">1</text>
<line x1="240.70" y1="547.70" x2="247.90" y2="547.70" stroke="#111" stroke-width="1.0"/>
<text x="237.50" y="549.05" font-family="Liberation Sans" font-weight="bold" font-size="5.0" text-anchor="end" fill="#111" stroke="#111" stroke-width="0.18" style="stroke-width:0.4px">2</text>
<line x1="240.70" y1="560.50" x2="247.90" y2="560.50" stroke="#111" stroke-width="1.0"/>
<text x="237.50" y="561.85" font-family="Liberation Sans" font-weight="bold" font-size="5.0" text-anchor="end" fill="#111" stroke="#111" stroke-width="0.18" style="stroke-width:0.4px">3</text>
<line x1="240.70" y1="575.60" x2="247.90" y2="575.60" stroke="#111" stroke-width="1.0"/>
<text x="237.50" y="576.95" font-family="Liberation Sans" font-weight="bold" font-size="5.0" text-anchor="end" fill="#111" stroke="#111" stroke-width="0.18" style="stroke-width:0.4px">4</text>
<line x1="240.70" y1="588.40" x2="247.90" y2="588.40" stroke="#111" stroke-width="1.0"/>
<text x="237.50" y="589.75" font-family="Liberation Sans" font-weight="bold" font-size="5.0" text-anchor="end" fill="#111" stroke="#111" stroke-width="0.18" style="stroke-width:0.4px">5</text>
<line x1="298.50" y1="532.50" x2="305.70" y2="532.50" stroke="#111" stroke-width="1.0"/>
<text x="307.90" y="533.85" font-family="Liberation Sans" font-weight="bold" font-size="5.0" text-anchor="start" fill="#111" stroke="#111" stroke-width="0.18" style="stroke-width:0.4px">10</text>
<line x1="298.50" y1="547.30" x2="305.70" y2="547.30" stroke="#111" stroke-width="1.0"/>
<text x="307.90" y="548.65" font-family="Liberation Sans" font-weight="bold" font-size="5.0" text-anchor="start" fill="#111" stroke="#111" stroke-width="0.18" style="stroke-width:0.4px">9</text>
<line x1="298.50" y1="561.00" x2="305.70" y2="561.00" stroke="#111" stroke-width="1.0"/>
<text x="307.90" y="562.35" font-family="Liberation Sans" font-weight="bold" font-size="5.0" text-anchor="start" fill="#111" stroke="#111" stroke-width="0.18" style="stroke-width:0.4px">8</text>
<line x1="298.50" y1="575.60" x2="305.70" y2="575.60" stroke="#111" stroke-width="1.0"/>
<text x="307.90" y="576.95" font-family="Liberation Sans" font-weight="bold" font-size="5.0" text-anchor="start" fill="#111" stroke="#111" stroke-width="0.18" style="stroke-width:0.4px">7</text>
<line x1="298.50" y1="588.40" x2="305.70" y2="588.40" stroke="#111" stroke-width="1.0"/>
<text x="307.90" y="589.75" font-family="Liberation Sans" font-weight="bold" font-size="5.0" text-anchor="start" fill="#111" stroke="#111" stroke-width="0.18" style="stroke-width:0.4px">6</text>
<polyline points="247.90,532.50 270.20,532.50 270.20,545.40 280.20,545.40 280.20,557.30" fill="none" stroke="#111" stroke-width="1.0" stroke-linejoin="miter"/>
<polyline points="261.50,545.00 261.50,539.50 274.20,539.50" fill="none" stroke="#111" stroke-width="1.0" stroke-linejoin="miter"/>
<polygon points="279.80,534.50 279.80,544.50 274.00,539.50" fill="none" stroke="#111" stroke-width="1.1" stroke-linejoin="miter"/>
<line x1="279.80" y1="539.50" x2="274.00" y2="539.50" stroke="#111" stroke-width="0.8"/>
<line x1="274.00" y1="533.70" x2="274.00" y2="545.30" stroke="#111" stroke-width="1.4000000000000001"/>
<polyline points="279.50,539.50 285.30,539.50 285.30,532.50 298.50,532.50" fill="none" stroke="#111" stroke-width="1.0" stroke-linejoin="miter"/>
<polygon points="264.07,551.01 254.12,549.96 259.70,544.72" fill="none" stroke="#111" stroke-width="1.1" stroke-linejoin="miter"/>
<line x1="259.10" y1="550.48" x2="259.70" y2="544.72" stroke="#111" stroke-width="0.8"/>
<line x1="265.47" y1="545.32" x2="253.93" y2="544.11" stroke="#111" stroke-width="1.4000000000000001"/>
<polyline points="259.00,550.20 257.80,555.50 247.90,547.70" fill="none" stroke="#111" stroke-width="1.0" stroke-linejoin="miter"/>
<polygon points="283.71,548.52 293.49,550.60 287.40,555.24" fill="none" stroke="#111" stroke-width="1.1" stroke-linejoin="miter"/>
<line x1="288.60" y1="549.56" x2="287.40" y2="555.24" stroke="#111" stroke-width="0.8"/>
<line x1="281.72" y1="554.03" x2="293.07" y2="556.44" stroke="#111" stroke-width="1.4000000000000001"/>
<polyline points="288.00,549.80 288.00,547.30 298.50,547.30" fill="none" stroke="#111" stroke-width="1.0" stroke-linejoin="miter"/>
<polyline points="287.30,555.20 287.00,557.30 280.20,557.30" fill="none" stroke="#111" stroke-width="1.0" stroke-linejoin="miter"/>
<polygon points="268.30,565.50 268.30,555.50 274.10,560.50" fill="none" stroke="#111" stroke-width="1.1" stroke-linejoin="miter"/>
<line x1="268.30" y1="560.50" x2="274.10" y2="560.50" stroke="#111" stroke-width="0.8"/>
<line x1="274.10" y1="566.30" x2="274.10" y2="554.70" stroke="#111" stroke-width="1.4000000000000001"/>
<polyline points="247.90,560.50 268.60,560.50" fill="none" stroke="#111" stroke-width="1.0" stroke-linejoin="miter"/>
<polyline points="273.80,560.50 278.90,560.50" fill="none" stroke="#111" stroke-width="1.0" stroke-linejoin="miter"/>
<polyline points="280.20,557.30 278.90,560.50 276.60,567.40 276.10,573.60 275.20,582.00 274.30,588.40 298.50,588.40" fill="none" stroke="#111" stroke-width="1.0" stroke-linejoin="miter"/>
<polygon points="261.87,577.41 251.92,576.36 257.50,571.12" fill="none" stroke="#111" stroke-width="1.1" stroke-linejoin="miter"/>
<line x1="256.90" y1="576.88" x2="257.50" y2="571.12" stroke="#111" stroke-width="0.8"/>
<line x1="263.27" y1="571.72" x2="251.73" y2="570.51" stroke="#111" stroke-width="1.4000000000000001"/>
<polyline points="257.80,571.40 257.80,567.40 276.60,567.40" fill="none" stroke="#111" stroke-width="1.0" stroke-linejoin="miter"/>
<polyline points="256.90,576.60 255.50,581.10 247.90,575.60" fill="none" stroke="#111" stroke-width="1.0" stroke-linejoin="miter"/>
<polygon points="281.03,564.89 290.98,565.94 285.40,571.18" fill="none" stroke="#111" stroke-width="1.1" stroke-linejoin="miter"/>
<line x1="286.00" y1="565.42" x2="285.40" y2="571.18" stroke="#111" stroke-width="0.8"/>
<line x1="279.63" y1="570.58" x2="291.17" y2="571.79" stroke="#111" stroke-width="1.4000000000000001"/>
<polyline points="285.80,565.70 286.60,561.00 298.50,561.00" fill="none" stroke="#111" stroke-width="1.0" stroke-linejoin="miter"/>
<polyline points="285.40,571.00 284.30,573.60 276.10,573.60" fill="none" stroke="#111" stroke-width="1.0" stroke-linejoin="miter"/>
<polygon points="266.00,587.00 266.00,577.00 271.80,582.00" fill="none" stroke="#111" stroke-width="1.1" stroke-linejoin="miter"/>
<line x1="266.00" y1="582.00" x2="271.80" y2="582.00" stroke="#111" stroke-width="0.8"/>
<line x1="271.80" y1="587.80" x2="271.80" y2="576.20" stroke="#111" stroke-width="1.4000000000000001"/>
<polyline points="266.30,582.00 261.90,582.00 261.90,588.40 247.90,588.40" fill="none" stroke="#111" stroke-width="1.0" stroke-linejoin="miter"/>
<polyline points="271.50,582.00 275.20,582.00" fill="none" stroke="#111" stroke-width="1.0" stroke-linejoin="miter"/>
<polygon points="281.60,578.90 291.60,578.90 286.60,584.70" fill="none" stroke="#111" stroke-width="1.1" stroke-linejoin="miter"/>
<line x1="286.60" y1="578.90" x2="286.60" y2="584.70" stroke="#111" stroke-width="0.8"/>
<line x1="280.80" y1="584.70" x2="292.40" y2="584.70" stroke="#111" stroke-width="1.4000000000000001"/>
<polyline points="286.60,579.20 286.60,575.60 298.50,575.60" fill="none" stroke="#111" stroke-width="1.0" stroke-linejoin="miter"/>
<polyline points="286.60,584.40 286.60,588.40" fill="none" stroke="#111" stroke-width="1.0" stroke-linejoin="miter"/>
<circle cx="270.20" cy="539.50" r="1.1" fill="#111"/>
<circle cx="278.90" cy="560.50" r="1.1" fill="#111"/>
<circle cx="276.60" cy="567.40" r="1.1" fill="#111"/>
<circle cx="275.20" cy="582.00" r="1.1" fill="#111"/>
<circle cx="286.60" cy="588.40" r="1.1" fill="#111"/>
<text x="276.60" y="531.20" font-family="Liberation Sans" font-weight="bold" font-size="4.8" text-anchor="middle" fill="#111" stroke="#111" stroke-width="0.18">a</text>
<text x="252.30" y="545.50" font-family="Liberation Sans" font-weight="bold" font-size="4.8" text-anchor="middle" fill="#111" stroke="#111" stroke-width="0.18">f</text>
<text x="285.30" y="546.60" font-family="Liberation Sans" font-weight="bold" font-size="4.8" text-anchor="middle" fill="#111" stroke="#111" stroke-width="0.18">b</text>
<text x="270.20" y="553.40" font-family="Liberation Sans" font-weight="bold" font-size="4.8" text-anchor="middle" fill="#111" stroke="#111" stroke-width="0.18">g</text>
<text x="254.10" y="567.80" font-family="Liberation Sans" font-weight="bold" font-size="4.8" text-anchor="middle" fill="#111" stroke="#111" stroke-width="0.18">e</text>
<text x="294.00" y="571.50" font-family="Liberation Sans" font-weight="bold" font-size="4.8" text-anchor="middle" fill="#111" stroke="#111" stroke-width="0.18">c</text>
<text x="267.90" y="593.00" font-family="Liberation Sans" font-weight="bold" font-size="4.8" text-anchor="middle" fill="#111" stroke="#111" stroke-width="0.18">d</text>
<text x="287.10" y="595.30" font-family="Liberation Sans" font-weight="bold" font-size="4.8" text-anchor="middle" fill="#111" stroke="#111" stroke-width="0.18">dp</text>
<text x="274.70" y="621.50" font-family="Liberation Sans" font-weight="bold" font-size="7.2" text-anchor="middle" fill="#111" stroke="#111" stroke-width="0.18">C</text>
<rect x="333.30" y="519.90" width="51.20" height="81.30" fill="none" stroke="#111" stroke-width="1.45"/>
<line x1="326.10" y1="531.60" x2="333.30" y2="531.60" stroke="#111" stroke-width="1.0"/>
<text x="322.90" y="532.95" font-family="Liberation Sans" font-weight="bold" font-size="5.0" text-anchor="end" fill="#111" stroke="#111" stroke-width="0.18" style="stroke-width:0.4px">1</text>
<line x1="326.10" y1="546.30" x2="333.30" y2="546.30" stroke="#111" stroke-width="1.0"/>
<text x="322.90" y="547.65" font-family="Liberation Sans" font-weight="bold" font-size="5.0" text-anchor="end" fill="#111" stroke="#111" stroke-width="0.18" style="stroke-width:0.4px">2</text>
<line x1="326.10" y1="559.60" x2="333.30" y2="559.60" stroke="#111" stroke-width="1.0"/>
<text x="322.90" y="560.95" font-family="Liberation Sans" font-weight="bold" font-size="5.0" text-anchor="end" fill="#111" stroke="#111" stroke-width="0.18" style="stroke-width:0.4px">3</text>
<line x1="326.10" y1="574.00" x2="333.30" y2="574.00" stroke="#111" stroke-width="1.0"/>
<text x="322.90" y="575.35" font-family="Liberation Sans" font-weight="bold" font-size="5.0" text-anchor="end" fill="#111" stroke="#111" stroke-width="0.18" style="stroke-width:0.4px">4</text>
<line x1="326.10" y1="587.80" x2="333.30" y2="587.80" stroke="#111" stroke-width="1.0"/>
<text x="322.90" y="589.15" font-family="Liberation Sans" font-weight="bold" font-size="5.0" text-anchor="end" fill="#111" stroke="#111" stroke-width="0.18" style="stroke-width:0.4px">5</text>
<line x1="384.50" y1="532.10" x2="391.70" y2="532.10" stroke="#111" stroke-width="1.0"/>
<text x="393.90" y="533.45" font-family="Liberation Sans" font-weight="bold" font-size="5.0" text-anchor="start" fill="#111" stroke="#111" stroke-width="0.18" style="stroke-width:0.4px">10</text>
<line x1="384.50" y1="546.10" x2="391.70" y2="546.10" stroke="#111" stroke-width="1.0"/>
<text x="393.90" y="547.45" font-family="Liberation Sans" font-weight="bold" font-size="5.0" text-anchor="start" fill="#111" stroke="#111" stroke-width="0.18" style="stroke-width:0.4px">9</text>
<line x1="384.50" y1="559.90" x2="391.70" y2="559.90" stroke="#111" stroke-width="1.0"/>
<text x="393.90" y="561.25" font-family="Liberation Sans" font-weight="bold" font-size="5.0" text-anchor="start" fill="#111" stroke="#111" stroke-width="0.18" style="stroke-width:0.4px">8</text>
<line x1="384.50" y1="573.60" x2="391.70" y2="573.60" stroke="#111" stroke-width="1.0"/>
<text x="393.90" y="574.95" font-family="Liberation Sans" font-weight="bold" font-size="5.0" text-anchor="start" fill="#111" stroke="#111" stroke-width="0.18" style="stroke-width:0.4px">7</text>
<line x1="384.50" y1="587.80" x2="391.70" y2="587.80" stroke="#111" stroke-width="1.0"/>
<text x="393.90" y="589.15" font-family="Liberation Sans" font-weight="bold" font-size="5.0" text-anchor="start" fill="#111" stroke="#111" stroke-width="0.18" style="stroke-width:0.4px">6</text>
<polygon points="338.50,536.60 338.50,526.60 344.30,531.60" fill="none" stroke="#111" stroke-width="1.1" stroke-linejoin="miter"/>
<line x1="338.50" y1="531.60" x2="344.30" y2="531.60" stroke="#111" stroke-width="0.8"/>
<line x1="344.30" y1="537.40" x2="344.30" y2="525.80" stroke="#111" stroke-width="1.4000000000000001"/>
<polyline points="333.30,531.60 338.80,531.60" fill="none" stroke="#111" stroke-width="1.0" stroke-linejoin="miter"/>
<polyline points="344.00,531.60 355.00,531.60 355.00,537.90" fill="none" stroke="#111" stroke-width="1.0" stroke-linejoin="miter"/>
<polyline points="348.80,545.40 348.80,537.90 359.80,537.90" fill="none" stroke="#111" stroke-width="1.0" stroke-linejoin="miter"/>
<polygon points="365.30,532.90 365.30,542.90 359.50,537.90" fill="none" stroke="#111" stroke-width="1.1" stroke-linejoin="miter"/>
<line x1="365.30" y1="537.90" x2="359.50" y2="537.90" stroke="#111" stroke-width="0.8"/>
<line x1="359.50" y1="532.10" x2="359.50" y2="543.70" stroke="#111" stroke-width="1.4000000000000001"/>
<polyline points="365.00,537.90 370.30,537.90 370.30,532.10 384.50,532.10" fill="none" stroke="#111" stroke-width="1.0" stroke-linejoin="miter"/>
<polyline points="354.30,537.90 353.00,546.10 367.60,546.10" fill="none" stroke="#111" stroke-width="1.0" stroke-linejoin="miter"/>
<polygon points="351.21,552.49 341.28,551.27 346.95,546.12" fill="none" stroke="#111" stroke-width="1.1" stroke-linejoin="miter"/>
<line x1="346.25" y1="551.88" x2="346.95" y2="546.12" stroke="#111" stroke-width="0.8"/>
<line x1="352.71" y1="546.83" x2="341.20" y2="545.41" stroke="#111" stroke-width="1.4000000000000001"/>
<polyline points="346.40,551.60 344.70,555.40 333.30,546.30" fill="none" stroke="#111" stroke-width="1.0" stroke-linejoin="miter"/>
<polygon points="369.57,549.98 379.53,550.85 374.05,556.19" fill="none" stroke="#111" stroke-width="1.1" stroke-linejoin="miter"/>
<line x1="374.55" y1="550.41" x2="374.05" y2="556.19" stroke="#111" stroke-width="0.8"/>
<line x1="368.27" y1="555.68" x2="379.83" y2="556.69" stroke="#111" stroke-width="1.4000000000000001"/>
<polyline points="374.50,550.70 374.50,546.10 384.50,546.10" fill="none" stroke="#111" stroke-width="1.0" stroke-linejoin="miter"/>
<polyline points="374.20,556.00 374.20,559.60 365.30,559.60" fill="none" stroke="#111" stroke-width="1.0" stroke-linejoin="miter"/>
<polygon points="356.20,564.60 356.20,554.60 362.00,559.60" fill="none" stroke="#111" stroke-width="1.1" stroke-linejoin="miter"/>
<line x1="356.20" y1="559.60" x2="362.00" y2="559.60" stroke="#111" stroke-width="0.8"/>
<line x1="362.00" y1="565.40" x2="362.00" y2="553.80" stroke="#111" stroke-width="1.4000000000000001"/>
<polyline points="333.30,559.60 356.50,559.60" fill="none" stroke="#111" stroke-width="1.0" stroke-linejoin="miter"/>
<polyline points="361.60,559.60 365.30,559.60" fill="none" stroke="#111" stroke-width="1.0" stroke-linejoin="miter"/>
<polyline points="367.60,546.10 365.30,559.60 364.40,565.80 363.00,576.30 361.60,582.30 361.20,587.80 384.50,587.80" fill="none" stroke="#111" stroke-width="1.0" stroke-linejoin="miter"/>
<polygon points="347.91,574.29 337.98,573.07 343.65,567.92" fill="none" stroke="#111" stroke-width="1.1" stroke-linejoin="miter"/>
<line x1="342.95" y1="573.68" x2="343.65" y2="567.92" stroke="#111" stroke-width="0.8"/>
<line x1="349.41" y1="568.63" x2="337.90" y2="567.21" stroke="#111" stroke-width="1.4000000000000001"/>
<polyline points="343.40,568.20 343.40,565.80 364.40,565.80" fill="none" stroke="#111" stroke-width="1.0" stroke-linejoin="miter"/>
<polyline points="343.00,573.40 341.50,579.50 333.30,574.00" fill="none" stroke="#111" stroke-width="1.0" stroke-linejoin="miter"/>
<polyline points="384.50,559.90 372.60,562.60 372.20,566.60" fill="none" stroke="#111" stroke-width="1.0" stroke-linejoin="miter"/>
<polygon points="366.71,566.36 376.69,567.06 371.30,572.49" fill="none" stroke="#111" stroke-width="1.1" stroke-linejoin="miter"/>
<line x1="371.70" y1="566.71" x2="371.30" y2="572.49" stroke="#111" stroke-width="0.8"/>
<line x1="365.51" y1="572.09" x2="377.08" y2="572.90" stroke="#111" stroke-width="1.4000000000000001"/>
<polyline points="371.30,572.20 371.00,576.30 363.00,576.30" fill="none" stroke="#111" stroke-width="1.0" stroke-linejoin="miter"/>
<polyline points="384.50,573.60 373.50,577.20 373.50,579.70" fill="none" stroke="#111" stroke-width="1.0" stroke-linejoin="miter"/>
<polygon points="368.40,579.40 378.40,579.40 373.40,585.20" fill="none" stroke="#111" stroke-width="1.1" stroke-linejoin="miter"/>
<line x1="373.40" y1="579.40" x2="373.40" y2="585.20" stroke="#111" stroke-width="0.8"/>
<line x1="367.60" y1="585.20" x2="379.20" y2="585.20" stroke="#111" stroke-width="1.4000000000000001"/>
<polyline points="373.40,584.90 373.40,587.80" fill="none" stroke="#111" stroke-width="1.0" stroke-linejoin="miter"/>
<polygon points="353.20,587.30 353.20,577.30 359.00,582.30" fill="none" stroke="#111" stroke-width="1.1" stroke-linejoin="miter"/>
<line x1="353.20" y1="582.30" x2="359.00" y2="582.30" stroke="#111" stroke-width="0.8"/>
<line x1="359.00" y1="588.10" x2="359.00" y2="576.50" stroke="#111" stroke-width="1.4000000000000001"/>
<polyline points="353.50,582.30 345.40,582.30 345.40,587.80 333.30,587.80" fill="none" stroke="#111" stroke-width="1.0" stroke-linejoin="miter"/>
<polyline points="358.70,582.30 361.60,582.30" fill="none" stroke="#111" stroke-width="1.0" stroke-linejoin="miter"/>
<circle cx="354.30" cy="537.90" r="1.1" fill="#111"/>
<circle cx="365.30" cy="559.60" r="1.1" fill="#111"/>
<circle cx="364.40" cy="565.80" r="1.1" fill="#111"/>
<circle cx="363.00" cy="576.30" r="1.1" fill="#111"/>
<circle cx="361.60" cy="582.30" r="1.1" fill="#111"/>
<circle cx="373.40" cy="587.80" r="1.1" fill="#111"/>
<text x="340.10" y="525.50" font-family="Liberation Sans" font-weight="bold" font-size="4.8" text-anchor="middle" fill="#111" stroke="#111" stroke-width="0.18">dl</text>
<text x="363.00" y="530.30" font-family="Liberation Sans" font-weight="bold" font-size="4.8" text-anchor="middle" fill="#111" stroke="#111" stroke-width="0.18">a</text>
<text x="339.20" y="546.30" font-family="Liberation Sans" font-weight="bold" font-size="4.8" text-anchor="middle" fill="#111" stroke="#111" stroke-width="0.18">f</text>
<text x="371.70" y="547.20" font-family="Liberation Sans" font-weight="bold" font-size="4.8" text-anchor="middle" fill="#111" stroke="#111" stroke-width="0.18">b</text>
<text x="358.00" y="552.60" font-family="Liberation Sans" font-weight="bold" font-size="4.8" text-anchor="middle" fill="#111" stroke="#111" stroke-width="0.18">g</text>
<text x="340.60" y="565.40" font-family="Liberation Sans" font-weight="bold" font-size="4.8" text-anchor="middle" fill="#111" stroke="#111" stroke-width="0.18">e</text>
<text x="378.60" y="571.30" font-family="Liberation Sans" font-weight="bold" font-size="4.8" text-anchor="middle" fill="#111" stroke="#111" stroke-width="0.18">c</text>
<text x="355.20" y="592.40" font-family="Liberation Sans" font-weight="bold" font-size="4.8" text-anchor="middle" fill="#111" stroke="#111" stroke-width="0.18">d</text>
<text x="373.10" y="594.70" font-family="Liberation Sans" font-weight="bold" font-size="4.8" text-anchor="middle" fill="#111" stroke="#111" stroke-width="0.18">dp</text>
<text x="361.20" y="621.50" font-family="Liberation Sans" font-weight="bold" font-size="7.2" text-anchor="middle" fill="#111" stroke="#111" stroke-width="0.18">D</text>
<rect x="418.30" y="519.60" width="50.70" height="81.60" fill="none" stroke="#111" stroke-width="1.45"/>
<line x1="411.10" y1="531.50" x2="418.30" y2="531.50" stroke="#111" stroke-width="1.0"/>
<text x="407.90" y="532.85" font-family="Liberation Sans" font-weight="bold" font-size="5.0" text-anchor="end" fill="#111" stroke="#111" stroke-width="0.18" style="stroke-width:0.4px">1</text>
<line x1="411.10" y1="546.30" x2="418.30" y2="546.30" stroke="#111" stroke-width="1.0"/>
<text x="407.90" y="547.65" font-family="Liberation Sans" font-weight="bold" font-size="5.0" text-anchor="end" fill="#111" stroke="#111" stroke-width="0.18" style="stroke-width:0.4px">2</text>
<line x1="411.10" y1="559.40" x2="418.30" y2="559.40" stroke="#111" stroke-width="1.0"/>
<text x="407.90" y="560.75" font-family="Liberation Sans" font-weight="bold" font-size="5.0" text-anchor="end" fill="#111" stroke="#111" stroke-width="0.18" style="stroke-width:0.4px">3</text>
<line x1="411.10" y1="573.50" x2="418.30" y2="573.50" stroke="#111" stroke-width="1.0"/>
<text x="407.90" y="574.85" font-family="Liberation Sans" font-weight="bold" font-size="5.0" text-anchor="end" fill="#111" stroke="#111" stroke-width="0.18" style="stroke-width:0.4px">4</text>
<line x1="411.10" y1="587.50" x2="418.30" y2="587.50" stroke="#111" stroke-width="1.0"/>
<text x="407.90" y="588.85" font-family="Liberation Sans" font-weight="bold" font-size="5.0" text-anchor="end" fill="#111" stroke="#111" stroke-width="0.18" style="stroke-width:0.4px">5</text>
<line x1="469.00" y1="531.50" x2="476.20" y2="531.50" stroke="#111" stroke-width="1.0"/>
<text x="478.40" y="532.85" font-family="Liberation Sans" font-weight="bold" font-size="5.0" text-anchor="start" fill="#111" stroke="#111" stroke-width="0.18" style="stroke-width:0.4px">10</text>
<line x1="469.00" y1="546.10" x2="476.20" y2="546.10" stroke="#111" stroke-width="1.0"/>
<text x="478.40" y="547.45" font-family="Liberation Sans" font-weight="bold" font-size="5.0" text-anchor="start" fill="#111" stroke="#111" stroke-width="0.18" style="stroke-width:0.4px">9</text>
<line x1="469.00" y1="559.90" x2="476.20" y2="559.90" stroke="#111" stroke-width="1.0"/>
<text x="478.40" y="561.25" font-family="Liberation Sans" font-weight="bold" font-size="5.0" text-anchor="start" fill="#111" stroke="#111" stroke-width="0.18" style="stroke-width:0.4px">8</text>
<line x1="469.00" y1="573.10" x2="476.20" y2="573.10" stroke="#111" stroke-width="1.0"/>
<text x="478.40" y="574.45" font-family="Liberation Sans" font-weight="bold" font-size="5.0" text-anchor="start" fill="#111" stroke="#111" stroke-width="0.18" style="stroke-width:0.4px">7</text>
<line x1="469.00" y1="587.30" x2="476.20" y2="587.30" stroke="#111" stroke-width="1.0"/>
<text x="478.40" y="588.65" font-family="Liberation Sans" font-weight="bold" font-size="5.0" text-anchor="start" fill="#111" stroke="#111" stroke-width="0.18" style="stroke-width:0.4px">6</text>
<polyline points="418.30,531.50 441.20,531.50 441.20,540.60 452.60,540.60" fill="none" stroke="#111" stroke-width="1.0" stroke-linejoin="miter"/>
<polyline points="432.90,545.20 432.90,538.00 441.20,538.00" fill="none" stroke="#111" stroke-width="1.0" stroke-linejoin="miter"/>
<polygon points="426.75,544.83 436.65,546.22 430.90,551.27" fill="none" stroke="#111" stroke-width="1.1" stroke-linejoin="miter"/>
<line x1="431.70" y1="545.53" x2="430.90" y2="551.27" stroke="#111" stroke-width="0.8"/>
<line x1="425.15" y1="550.46" x2="436.64" y2="552.08" stroke="#111" stroke-width="1.4000000000000001"/>
<polyline points="430.80,551.20 430.20,556.30 418.30,546.30" fill="none" stroke="#111" stroke-width="1.0" stroke-linejoin="miter"/>
<polygon points="464.31,555.39 454.38,554.17 460.05,549.02" fill="none" stroke="#111" stroke-width="1.1" stroke-linejoin="miter"/>
<line x1="459.35" y1="554.78" x2="460.05" y2="549.02" stroke="#111" stroke-width="0.8"/>
<line x1="465.81" y1="549.73" x2="454.30" y2="548.31" stroke="#111" stroke-width="1.4000000000000001"/>
<polyline points="459.90,549.30 459.90,546.10 469.00,546.10" fill="none" stroke="#111" stroke-width="1.0" stroke-linejoin="miter"/>
<polyline points="459.50,554.50 459.50,559.40 449.90,559.40" fill="none" stroke="#111" stroke-width="1.0" stroke-linejoin="miter"/>
<polygon points="446.50,554.40 446.50,564.40 440.70,559.40" fill="none" stroke="#111" stroke-width="1.1" stroke-linejoin="miter"/>
<line x1="446.50" y1="559.40" x2="440.70" y2="559.40" stroke="#111" stroke-width="0.8"/>
<line x1="440.70" y1="553.60" x2="440.70" y2="565.20" stroke="#111" stroke-width="1.4000000000000001"/>
<polyline points="441.00,559.40 418.30,559.40" fill="none" stroke="#111" stroke-width="1.0" stroke-linejoin="miter"/>
<polyline points="446.20,559.40 449.90,559.40" fill="none" stroke="#111" stroke-width="1.0" stroke-linejoin="miter"/>
<polyline points="452.60,540.60 449.90,559.40 447.60,575.00 445.30,587.30 469.00,587.30" fill="none" stroke="#111" stroke-width="1.0" stroke-linejoin="miter"/>
<polygon points="461.63,573.22 451.67,572.35 457.15,567.01" fill="none" stroke="#111" stroke-width="1.1" stroke-linejoin="miter"/>
<line x1="456.65" y1="572.79" x2="457.15" y2="567.01" stroke="#111" stroke-width="0.8"/>
<line x1="462.93" y1="567.52" x2="451.37" y2="566.51" stroke="#111" stroke-width="1.4000000000000001"/>
<polyline points="457.20,567.30 469.00,560.00" fill="none" stroke="#111" stroke-width="1.0" stroke-linejoin="miter"/>
<polyline points="456.70,572.50 456.70,575.00 447.60,575.00" fill="none" stroke="#111" stroke-width="1.0" stroke-linejoin="miter"/>
<polygon points="462.60,584.50 452.60,584.50 457.60,578.70" fill="none" stroke="#111" stroke-width="1.1" stroke-linejoin="miter"/>
<line x1="457.60" y1="584.50" x2="457.60" y2="578.70" stroke="#111" stroke-width="0.8"/>
<line x1="463.40" y1="578.70" x2="451.80" y2="578.70" stroke="#111" stroke-width="1.4000000000000001"/>
<polyline points="457.60,579.00 469.00,573.10" fill="none" stroke="#111" stroke-width="1.0" stroke-linejoin="miter"/>
<polyline points="457.60,584.20 457.60,587.30" fill="none" stroke="#111" stroke-width="1.0" stroke-linejoin="miter"/>
<circle cx="441.20" cy="538.00" r="1.1" fill="#111"/>
<circle cx="449.90" cy="559.40" r="1.1" fill="#111"/>
<circle cx="447.60" cy="575.00" r="1.1" fill="#111"/>
<circle cx="457.60" cy="587.30" r="1.1" fill="#111"/>
<text x="443.40" y="548.60" font-family="Liberation Sans" font-weight="bold" font-size="5.0" text-anchor="middle" fill="#111" stroke="#111" stroke-width="0.18">plus</text>
<text x="457.60" y="546.30" font-family="Liberation Sans" font-weight="bold" font-size="4.8" text-anchor="middle" fill="#111" stroke="#111" stroke-width="0.18">b</text>
<text x="454.00" y="564.90" font-family="Liberation Sans" font-weight="bold" font-size="4.8" text-anchor="middle" fill="#111" stroke="#111" stroke-width="0.18">c</text>
<text x="438.40" y="571.00" font-family="Liberation Sans" font-weight="bold" font-size="5.0" text-anchor="middle" fill="#111" stroke="#111" stroke-width="0.18">minus</text>
<text x="457.60" y="594.70" font-family="Liberation Sans" font-weight="bold" font-size="4.8" text-anchor="middle" fill="#111" stroke="#111" stroke-width="0.18">dp</text>
<text x="445.40" y="621.50" font-family="Liberation Sans" font-weight="bold" font-size="7.2" text-anchor="middle" fill="#111" stroke="#111" stroke-width="0.18">E</text>
<rect x="502.30" y="519.30" width="50.90" height="81.70" fill="none" stroke="#111" stroke-width="1.45"/>
<line x1="495.10" y1="531.20" x2="502.30" y2="531.20" stroke="#111" stroke-width="1.0"/>
<text x="491.90" y="532.55" font-family="Liberation Sans" font-weight="bold" font-size="5.0" text-anchor="end" fill="#111" stroke="#111" stroke-width="0.18" style="stroke-width:0.4px">1</text>
<line x1="495.10" y1="546.30" x2="502.30" y2="546.30" stroke="#111" stroke-width="1.0"/>
<text x="491.90" y="547.65" font-family="Liberation Sans" font-weight="bold" font-size="5.0" text-anchor="end" fill="#111" stroke="#111" stroke-width="0.18" style="stroke-width:0.4px">2</text>
<line x1="495.10" y1="558.90" x2="502.30" y2="558.90" stroke="#111" stroke-width="1.0"/>
<text x="491.90" y="560.25" font-family="Liberation Sans" font-weight="bold" font-size="5.0" text-anchor="end" fill="#111" stroke="#111" stroke-width="0.18" style="stroke-width:0.4px">3</text>
<line x1="495.10" y1="573.00" x2="502.30" y2="573.00" stroke="#111" stroke-width="1.0"/>
<text x="491.90" y="574.35" font-family="Liberation Sans" font-weight="bold" font-size="5.0" text-anchor="end" fill="#111" stroke="#111" stroke-width="0.18" style="stroke-width:0.4px">4</text>
<line x1="495.10" y1="587.30" x2="502.30" y2="587.30" stroke="#111" stroke-width="1.0"/>
<text x="491.90" y="588.65" font-family="Liberation Sans" font-weight="bold" font-size="5.0" text-anchor="end" fill="#111" stroke="#111" stroke-width="0.18" style="stroke-width:0.4px">5</text>
<line x1="553.20" y1="531.20" x2="560.40" y2="531.20" stroke="#111" stroke-width="1.0"/>
<text x="562.60" y="532.55" font-family="Liberation Sans" font-weight="bold" font-size="5.0" text-anchor="start" fill="#111" stroke="#111" stroke-width="0.18" style="stroke-width:0.4px">10</text>
<line x1="553.20" y1="546.10" x2="560.40" y2="546.10" stroke="#111" stroke-width="1.0"/>
<text x="562.60" y="547.45" font-family="Liberation Sans" font-weight="bold" font-size="5.0" text-anchor="start" fill="#111" stroke="#111" stroke-width="0.18" style="stroke-width:0.4px">9</text>
<line x1="553.20" y1="559.90" x2="560.40" y2="559.90" stroke="#111" stroke-width="1.0"/>
<text x="562.60" y="561.25" font-family="Liberation Sans" font-weight="bold" font-size="5.0" text-anchor="start" fill="#111" stroke="#111" stroke-width="0.18" style="stroke-width:0.4px">8</text>
<line x1="553.20" y1="573.60" x2="560.40" y2="573.60" stroke="#111" stroke-width="1.0"/>
<text x="562.60" y="574.95" font-family="Liberation Sans" font-weight="bold" font-size="5.0" text-anchor="start" fill="#111" stroke="#111" stroke-width="0.18" style="stroke-width:0.4px">7</text>
<line x1="553.20" y1="587.30" x2="560.40" y2="587.30" stroke="#111" stroke-width="1.0"/>
<text x="562.60" y="588.65" font-family="Liberation Sans" font-weight="bold" font-size="5.0" text-anchor="start" fill="#111" stroke="#111" stroke-width="0.18" style="stroke-width:0.4px">6</text>
<polyline points="502.30,531.20 526.50,531.20 526.50,536.20 525.60,541.00 537.10,541.00" fill="none" stroke="#111" stroke-width="1.0" stroke-linejoin="miter"/>
<polyline points="518.80,544.40 518.80,536.20 526.50,536.20" fill="none" stroke="#111" stroke-width="1.0" stroke-linejoin="miter"/>
<polygon points="522.15,550.97 512.25,549.58 518.00,544.53" fill="none" stroke="#111" stroke-width="1.1" stroke-linejoin="miter"/>
<line x1="517.20" y1="550.27" x2="518.00" y2="544.53" stroke="#111" stroke-width="0.8"/>
<line x1="523.75" y1="545.34" x2="512.26" y2="543.72" stroke="#111" stroke-width="1.4000000000000001"/>
<polyline points="517.20,550.00 515.60,554.50 502.30,546.30" fill="none" stroke="#111" stroke-width="1.0" stroke-linejoin="miter"/>
<polygon points="538.15,548.83 548.05,550.22 542.30,555.27" fill="none" stroke="#111" stroke-width="1.1" stroke-linejoin="miter"/>
<line x1="543.10" y1="549.53" x2="542.30" y2="555.27" stroke="#111" stroke-width="0.8"/>
<line x1="536.55" y1="554.46" x2="548.04" y2="556.08" stroke="#111" stroke-width="1.4000000000000001"/>
<polyline points="543.00,549.80 544.80,546.10 553.20,546.10" fill="none" stroke="#111" stroke-width="1.0" stroke-linejoin="miter"/>
<polyline points="542.30,555.10 541.60,558.90 533.90,558.90" fill="none" stroke="#111" stroke-width="1.0" stroke-linejoin="miter"/>
<polygon points="524.70,563.90 524.70,553.90 530.50,558.90" fill="none" stroke="#111" stroke-width="1.1" stroke-linejoin="miter"/>
<line x1="524.70" y1="558.90" x2="530.50" y2="558.90" stroke="#111" stroke-width="0.8"/>
<line x1="530.50" y1="564.70" x2="530.50" y2="553.10" stroke="#111" stroke-width="1.4000000000000001"/>
<polyline points="502.30,558.90 525.00,558.90" fill="none" stroke="#111" stroke-width="1.0" stroke-linejoin="miter"/>
<polyline points="530.20,558.90 533.90,558.90" fill="none" stroke="#111" stroke-width="1.0" stroke-linejoin="miter"/>
<polyline points="537.10,541.00 533.90,558.90 531.60,573.60 529.30,587.30 553.20,587.30" fill="none" stroke="#111" stroke-width="1.0" stroke-linejoin="miter"/>
<polygon points="536.39,565.11 546.32,566.33 540.65,571.48" fill="none" stroke="#111" stroke-width="1.1" stroke-linejoin="miter"/>
<line x1="541.35" y1="565.72" x2="540.65" y2="571.48" stroke="#111" stroke-width="0.8"/>
<line x1="534.89" y1="570.77" x2="546.40" y2="572.19" stroke="#111" stroke-width="1.4000000000000001"/>
<polyline points="541.30,566.00 553.20,560.00" fill="none" stroke="#111" stroke-width="1.0" stroke-linejoin="miter"/>
<polyline points="540.70,571.30 540.60,573.60 531.60,573.60" fill="none" stroke="#111" stroke-width="1.0" stroke-linejoin="miter"/>
<polygon points="537.10,577.10 547.10,577.10 542.10,582.90" fill="none" stroke="#111" stroke-width="1.1" stroke-linejoin="miter"/>
<line x1="542.10" y1="577.10" x2="542.10" y2="582.90" stroke="#111" stroke-width="0.8"/>
<line x1="536.30" y1="582.90" x2="547.90" y2="582.90" stroke="#111" stroke-width="1.4000000000000001"/>
<polyline points="542.10,577.40 553.20,573.60" fill="none" stroke="#111" stroke-width="1.0" stroke-linejoin="miter"/>
<polyline points="542.10,582.60 542.10,587.30" fill="none" stroke="#111" stroke-width="1.0" stroke-linejoin="miter"/>
<circle cx="526.50" cy="536.20" r="1.1" fill="#111"/>
<circle cx="533.90" cy="558.90" r="1.1" fill="#111"/>
<circle cx="531.60" cy="573.60" r="1.1" fill="#111"/>
<circle cx="542.10" cy="587.30" r="1.1" fill="#111"/>
<text x="511.00" y="542.40" font-family="Liberation Sans" font-weight="bold" font-size="5.0" text-anchor="middle" fill="#111" stroke="#111" stroke-width="0.18">plus</text>
<text x="541.60" y="546.60" font-family="Liberation Sans" font-weight="bold" font-size="4.8" text-anchor="middle" fill="#111" stroke="#111" stroke-width="0.18">b</text>
<text x="549.00" y="571.00" font-family="Liberation Sans" font-weight="bold" font-size="4.8" text-anchor="middle" fill="#111" stroke="#111" stroke-width="0.18">c</text>
<text x="521.50" y="569.50" font-family="Liberation Sans" font-weight="bold" font-size="5.0" text-anchor="middle" fill="#111" stroke="#111" stroke-width="0.18">minus</text>
<text x="541.60" y="594.70" font-family="Liberation Sans" font-weight="bold" font-size="4.8" text-anchor="middle" fill="#111" stroke="#111" stroke-width="0.18">dp</text>
<text x="528.90" y="621.50" font-family="Liberation Sans" font-weight="bold" font-size="7.2" text-anchor="middle" fill="#111" stroke="#111" stroke-width="0.18">F</text>
<text x="384.10" y="124.60" font-family="Liberation Sans" font-weight="bold" font-size="5.4" text-anchor="start" fill="#111" stroke="#111" stroke-width="0.18" textLength="33.90" lengthAdjust="spacingAndGlyphs">COLOR BIN</text>
<text x="392.40" y="130.90" font-family="Liberation Sans" font-weight="bold" font-size="5.4" text-anchor="start" fill="#111" stroke="#111" stroke-width="0.18" textLength="25.20" lengthAdjust="spacingAndGlyphs">(NOTE 6)</text>
<text x="383.10" y="141.80" font-family="Liberation Sans" font-weight="bold" font-size="5.4" text-anchor="start" fill="#111" stroke="#111" stroke-width="0.18" textLength="31.60" lengthAdjust="spacingAndGlyphs">LUMINOUS</text>
<text x="383.10" y="148.50" font-family="Liberation Sans" font-weight="bold" font-size="5.4" text-anchor="start" fill="#111" stroke="#111" stroke-width="0.18" textLength="31.90" lengthAdjust="spacingAndGlyphs">INTENSITY</text>
<text x="383.10" y="155.00" font-family="Liberation Sans" font-weight="bold" font-size="5.4" text-anchor="start" fill="#111" stroke="#111" stroke-width="0.18" textLength="32.80" lengthAdjust="spacingAndGlyphs">CATEGORY</text>
<text x="383.10" y="170.10" font-family="Liberation Sans" font-weight="bold" font-size="5.4" text-anchor="start" fill="#111" stroke="#111" stroke-width="0.18" textLength="33.80" lengthAdjust="spacingAndGlyphs">DATE CODE</text>
<path d="M418.6,128.6 Q431,130 433.5,134 L444.5,153.5" fill="none" stroke="#111" stroke-width="0.55"/>
<path d="M416.5,146.5 L434.5,150.3 Q437,151.5 438.5,153 L443.2,159.5" fill="none" stroke="#111" stroke-width="0.55"/>
<path d="M417.8,168.8 L433,172.5 L443.5,176.5" fill="none" stroke="#111" stroke-width="0.55"/>
<path d="M450.3,145.5 L432.5,145.5 L432.5,192.9 L453.4,192.9" fill="none" stroke="#111" stroke-width="1.2"/>
<line x1="449.90" y1="145.50" x2="449.90" y2="182.50" stroke="#111" stroke-width="1.1"/>
<rect x="450.6" y="144.9" width="4.2" height="2.8" fill="#111"/>
<rect x="450.6" y="190.2" width="3.4" height="3.3" fill="#111"/>
<rect x="451.0" y="149.25" width="18.6" height="2.3" rx="1.1" fill="#999" stroke="#222" stroke-width="0.5"/>
<rect x="451.0" y="158.85" width="18.6" height="2.3" rx="1.1" fill="#999" stroke="#222" stroke-width="0.5"/>
<rect x="451.0" y="168.65" width="18.6" height="2.3" rx="1.1" fill="#999" stroke="#222" stroke-width="0.5"/>
<rect x="451.0" y="178.15" width="18.6" height="2.3" rx="1.1" fill="#999" stroke="#222" stroke-width="0.5"/>
<rect x="451.0" y="187.75" width="18.6" height="2.3" rx="1.1" fill="#999" stroke="#222" stroke-width="0.5"/>
<rect x="451.2" y="162.80" width="1.6" height="1.6" fill="none" stroke="#222" stroke-width="0.4"/>
<rect x="451.2" y="173.50" width="1.6" height="1.6" fill="none" stroke="#222" stroke-width="0.4"/>
<text transform="translate(438.2,191.0) rotate(-90)" font-family="Liberation Sans" font-weight="bold" font-size="4.7" fill="#111" textLength="36.5" lengthAdjust="spacingAndGlyphs">HDSP-XXXX</text>
<text transform="translate(442.6,154.2) rotate(90)" font-family="Liberation Sans" font-weight="bold" font-size="4.7" fill="#111" textLength="7.8" lengthAdjust="spacingAndGlyphs">MZ</text>
<text transform="translate(442.6,171.0) rotate(90)" font-family="Liberation Sans" font-weight="bold" font-size="4.7" fill="#111" textLength="9.5" lengthAdjust="spacingAndGlyphs">YWW</text>
<line x1="453.40" y1="125.30" x2="453.40" y2="145.00" stroke="#111" stroke-width="0.55"/>
<line x1="455.10" y1="125.30" x2="455.10" y2="145.00" stroke="#111" stroke-width="0.55"/>
<line x1="444.90" y1="129.70" x2="453.20" y2="129.70" stroke="#111" stroke-width="0.55"/>
<polygon points="453.20,129.70 449.60,130.95 449.60,128.45" fill="#111"/>
<line x1="462.50" y1="129.70" x2="455.30" y2="129.70" stroke="#111" stroke-width="0.55"/>
<polygon points="455.30,129.70 458.90,128.45 458.90,130.95" fill="#111"/>
<text x="466.90" y="126.50" font-family="Liberation Sans" font-weight="bold" font-size="4.9" text-anchor="start" fill="#111" stroke="#111" stroke-width="0.18" textLength="9.90" lengthAdjust="spacingAndGlyphs">.254</text>
<text x="464.40" y="132.40" font-family="Liberation Sans" font-weight="bold" font-size="4.9" text-anchor="start" fill="#111" stroke="#111" stroke-width="0.18" textLength="14.70" lengthAdjust="spacingAndGlyphs">(.010)</text>
<text x="465.90" y="137.40" font-family="Liberation Sans" font-weight="bold" font-size="4.9" text-anchor="start" fill="#111" stroke="#111" stroke-width="0.18" textLength="12.00" lengthAdjust="spacingAndGlyphs">MIN.</text>
<text x="495.30" y="132.40" font-family="Liberation Sans" font-weight="bold" font-size="4.9" text-anchor="start" fill="#111" stroke="#111" stroke-width="0.18" textLength="9.80" lengthAdjust="spacingAndGlyphs">1.27</text>
<text x="492.40" y="139.30" font-family="Liberation Sans" font-weight="bold" font-size="4.9" text-anchor="start" fill="#111" stroke="#111" stroke-width="0.18" textLength="14.20" lengthAdjust="spacingAndGlyphs">(.050)</text>
<polyline points="491.90,133.40 484.40,133.40 484.40,144.40" fill="none" stroke="#111" stroke-width="0.55" stroke-linejoin="miter"/>
<polygon points="484.40,145.00 483.15,141.40 485.65,141.40" fill="#111"/>
<line x1="455.00" y1="145.20" x2="487.50" y2="145.20" stroke="#111" stroke-width="0.55"/>
<line x1="484.40" y1="159.80" x2="484.40" y2="151.00" stroke="#111" stroke-width="0.55"/>
<polygon points="484.40,151.00 485.65,154.60 483.15,154.60" fill="#111"/>
<line x1="471.10" y1="150.40" x2="473.00" y2="150.40" stroke="#111" stroke-width="0.5"/>
<line x1="477.00" y1="150.40" x2="487.50" y2="150.40" stroke="#111" stroke-width="0.5"/>
<line x1="471.10" y1="179.30" x2="473.00" y2="179.30" stroke="#111" stroke-width="0.5"/>
<line x1="477.00" y1="179.30" x2="489.40" y2="179.30" stroke="#111" stroke-width="0.5"/>
<line x1="471.10" y1="188.90" x2="473.00" y2="188.90" stroke="#111" stroke-width="0.5"/>
<line x1="477.00" y1="188.90" x2="490.70" y2="188.90" stroke="#111" stroke-width="0.5"/>
<line x1="470.50" y1="168.40" x2="501.80" y2="168.40" stroke="#111" stroke-width="0.55"/>
<line x1="470.50" y1="171.10" x2="501.80" y2="171.10" stroke="#111" stroke-width="0.55"/>
<polyline points="511.00,155.70 499.00,155.70 499.00,167.60" fill="none" stroke="#111" stroke-width="0.55" stroke-linejoin="miter"/>
<polygon points="499.00,168.20 497.75,164.60 500.25,164.60" fill="#111"/>
<line x1="499.00" y1="182.70" x2="499.00" y2="171.40" stroke="#111" stroke-width="0.55"/>
<polygon points="499.00,171.40 500.25,175.00 497.75,175.00" fill="#111"/>
<text x="514.20" y="152.00" font-family="Liberation Sans" font-weight="bold" font-size="4.9" text-anchor="start" fill="#111" stroke="#111" stroke-width="0.18" textLength="10.50" lengthAdjust="spacingAndGlyphs">.508</text>
<text x="511.20" y="158.50" font-family="Liberation Sans" font-weight="bold" font-size="4.9" text-anchor="start" fill="#111" stroke="#111" stroke-width="0.18" textLength="15.20" lengthAdjust="spacingAndGlyphs">(.020)</text>
<text x="513.60" y="164.80" font-family="Liberation Sans" font-weight="bold" font-size="4.9" text-anchor="start" fill="#111" stroke="#111" stroke-width="0.18" textLength="11.80" lengthAdjust="spacingAndGlyphs">TYP.</text>
<line x1="487.20" y1="172.30" x2="487.20" y2="178.90" stroke="#111" stroke-width="0.55"/>
<polygon points="487.20,178.90 485.95,175.30 488.45,175.30" fill="#111"/>
<polyline points="496.00,199.70 487.20,199.70 487.20,190.00" fill="none" stroke="#111" stroke-width="0.55" stroke-linejoin="miter"/>
<polygon points="487.20,189.30 488.45,192.90 485.95,192.90" fill="#111"/>
<text x="497.90" y="199.00" font-family="Liberation Sans" font-weight="bold" font-size="4.9" text-anchor="start" fill="#111" stroke="#111" stroke-width="0.18" textLength="11.80" lengthAdjust="spacingAndGlyphs">2.54</text>
<text x="496.00" y="205.80" font-family="Liberation Sans" font-weight="bold" font-size="4.9" text-anchor="start" fill="#111" stroke="#111" stroke-width="0.18" textLength="15.00" lengthAdjust="spacingAndGlyphs">(.100)</text>
<text x="514.90" y="202.30" font-family="Liberation Sans" font-weight="bold" font-size="4.9" text-anchor="start" fill="#111" stroke="#111" stroke-width="0.18" textLength="12.00" lengthAdjust="spacingAndGlyphs">TYP.</text>
<line x1="430.70" y1="193.50" x2="430.70" y2="233.10" stroke="#111" stroke-width="0.55"/>
<line x1="449.30" y1="193.50" x2="449.30" y2="206.10" stroke="#111" stroke-width="0.55"/>
<line x1="453.60" y1="193.50" x2="453.60" y2="220.00" stroke="#111" stroke-width="0.55"/>
<line x1="467.80" y1="191.00" x2="467.80" y2="233.10" stroke="#111" stroke-width="0.55"/>
<line x1="418.00" y1="204.80" x2="449.30" y2="204.80" stroke="#111" stroke-width="0.55"/>
<polygon points="430.90,204.80 434.50,203.55 434.50,206.05" fill="#111"/>
<polygon points="449.10,204.80 445.50,206.05 445.50,203.55" fill="#111"/>
<line x1="440.00" y1="210.20" x2="453.40" y2="210.20" stroke="#111" stroke-width="0.55"/>
<polygon points="453.40,210.20 449.80,211.45 449.80,208.95" fill="#111"/>
<line x1="426.00" y1="216.80" x2="453.60" y2="216.80" stroke="#111" stroke-width="0.55"/>
<polygon points="430.90,216.80 434.50,215.55 434.50,218.05" fill="#111"/>
<polygon points="453.40,216.80 449.80,218.05 449.80,215.55" fill="#111"/>
<line x1="430.70" y1="230.70" x2="467.80" y2="230.70" stroke="#111" stroke-width="0.55"/>
<polygon points="430.90,230.70 434.50,229.45 434.50,231.95" fill="#111"/>
<polygon points="467.60,230.70 464.00,231.95 464.00,229.45" fill="#111"/>
<line x1="477.60" y1="210.50" x2="468.00" y2="210.50" stroke="#111" stroke-width="0.55"/>
<polygon points="468.00,210.50 471.60,209.25 471.60,211.75" fill="#111"/>
<text x="403.60" y="202.90" font-family="Liberation Sans" font-weight="bold" font-size="4.9" text-anchor="start" fill="#111" stroke="#111" stroke-width="0.18" textLength="12.70" lengthAdjust="spacingAndGlyphs">5.08</text>
<text x="402.50" y="209.40" font-family="Liberation Sans" font-weight="bold" font-size="4.9" text-anchor="start" fill="#111" stroke="#111" stroke-width="0.18" textLength="14.70" lengthAdjust="spacingAndGlyphs">(.200)</text>
<text x="414.70" y="215.60" font-family="Liberation Sans" font-weight="bold" font-size="4.9" text-anchor="start" fill="#111" stroke="#111" stroke-width="0.18" textLength="9.80" lengthAdjust="spacingAndGlyphs">6.09</text>
<text x="410.60" y="222.50" font-family="Liberation Sans" font-weight="bold" font-size="4.9" text-anchor="start" fill="#111" stroke="#111" stroke-width="0.18" textLength="15.50" lengthAdjust="spacingAndGlyphs">(.240)</text>
<text x="444.90" y="226.60" font-family="Liberation Sans" font-weight="bold" font-size="4.9" text-anchor="start" fill="#111" stroke="#111" stroke-width="0.18" textLength="10.70" lengthAdjust="spacingAndGlyphs">9.91</text>
<text x="442.80" y="232.60" font-family="Liberation Sans" font-weight="bold" font-size="4.9" text-anchor="start" fill="#111" stroke="#111" stroke-width="0.18" textLength="14.70" lengthAdjust="spacingAndGlyphs">(.390)</text>
<text x="444.10" y="239.60" font-family="Liberation Sans" font-weight="bold" font-size="4.9" text-anchor="start" fill="#111" stroke="#111" stroke-width="0.18" textLength="12.30" lengthAdjust="spacingAndGlyphs">REF.</text>
<text x="482.50" y="210.60" font-family="Liberation Sans" font-weight="bold" font-size="4.9" text-anchor="start" fill="#111" stroke="#111" stroke-width="0.18" textLength="10.70" lengthAdjust="spacingAndGlyphs">3.81</text>
<text x="480.90" y="216.80" font-family="Liberation Sans" font-weight="bold" font-size="4.9" text-anchor="start" fill="#111" stroke="#111" stroke-width="0.18" textLength="14.70" lengthAdjust="spacingAndGlyphs">(.150)</text>
<text x="482.50" y="223.30" font-family="Liberation Sans" font-weight="bold" font-size="4.9" text-anchor="start" fill="#111" stroke="#111" stroke-width="0.18" textLength="12.30" lengthAdjust="spacingAndGlyphs">MIN.</text>
<text x="399.10" y="257.90" font-family="Liberation Sans" font-weight="bold" font-size="5.5" text-anchor="start" fill="#111" stroke="#111" stroke-width="0.18" textLength="68.00" lengthAdjust="spacingAndGlyphs">MITERED CORNER FOR</text>
<text x="415.30" y="264.90" font-family="Liberation Sans" font-weight="bold" font-size="5.5" text-anchor="start" fill="#111" stroke="#111" stroke-width="0.18" textLength="51.80" lengthAdjust="spacingAndGlyphs">PIN 1 REFERENCE</text>
<polyline points="468.50,262.60 478.80,262.60 482.00,273.00" fill="none" stroke="#111" stroke-width="0.55" stroke-linejoin="miter"/>
<polygon points="482.30,274.00 480.05,270.92 482.44,270.19" fill="#111"/>
<path d="M481.35,278.00 Q481.35,275.60 483.75,275.60 L511.85,275.60 L511.85,323.20 L481.35,323.20 Z" fill="none" stroke="#111" stroke-width="1.3"/>
<line x1="451.60" y1="274.60" x2="481.00" y2="274.60" stroke="#111" stroke-width="0.55"/>
<line x1="451.80" y1="323.50" x2="481.00" y2="323.50" stroke="#111" stroke-width="0.55"/>
<line x1="453.50" y1="275.40" x2="453.50" y2="293.50" stroke="#111" stroke-width="0.55"/>
<polygon points="453.50,274.80 454.75,278.40 452.25,278.40" fill="#111"/>
<line x1="453.50" y1="305.00" x2="453.50" y2="322.80" stroke="#111" stroke-width="0.55"/>
<polygon points="453.50,323.30 452.25,319.70 454.75,319.70" fill="#111"/>
<text x="436.90" y="298.20" font-family="Liberation Sans" font-weight="bold" font-size="4.9" text-anchor="start" fill="#111" stroke="#111" stroke-width="0.18" textLength="30.20" lengthAdjust="spacingAndGlyphs">12.7 ± .380</text>
<text x="434.00" y="304.60" font-family="Liberation Sans" font-weight="bold" font-size="4.9" text-anchor="start" fill="#111" stroke="#111" stroke-width="0.18" textLength="33.80" lengthAdjust="spacingAndGlyphs">(.500 ± .015)</text>
<text x="478.60" y="283.10" font-family="Liberation Sans" font-weight="bold" font-size="5.4" text-anchor="end" fill="#111" stroke="#111" stroke-width="0.18">1</text>
<text x="513.80" y="283.10" font-family="Liberation Sans" font-weight="bold" font-size="5.4" text-anchor="start" fill="#111" stroke="#111" stroke-width="0.18">10</text>
<text x="478.60" y="292.60" font-family="Liberation Sans" font-weight="bold" font-size="5.4" text-anchor="end" fill="#111" stroke="#111" stroke-width="0.18">2</text>
<text x="513.80" y="292.60" font-family="Liberation Sans" font-weight="bold" font-size="5.4" text-anchor="start" fill="#111" stroke="#111" stroke-width="0.18">9</text>
<text x="478.60" y="302.00" font-family="Liberation Sans" font-weight="bold" font-size="5.4" text-anchor="end" fill="#111" stroke="#111" stroke-width="0.18">3</text>
<text x="513.80" y="302.00" font-family="Liberation Sans" font-weight="bold" font-size="5.4" text-anchor="start" fill="#111" stroke="#111" stroke-width="0.18">8</text>
<text x="478.60" y="311.40" font-family="Liberation Sans" font-weight="bold" font-size="5.4" text-anchor="end" fill="#111" stroke="#111" stroke-width="0.18">4</text>
<text x="513.80" y="311.40" font-family="Liberation Sans" font-weight="bold" font-size="5.4" text-anchor="start" fill="#111" stroke="#111" stroke-width="0.18">7</text>
<text x="478.60" y="320.60" font-family="Liberation Sans" font-weight="bold" font-size="5.4" text-anchor="end" fill="#111" stroke="#111" stroke-width="0.18">5</text>
<text x="513.80" y="320.60" font-family="Liberation Sans" font-weight="bold" font-size="5.4" text-anchor="start" fill="#111" stroke="#111" stroke-width="0.18">6</text>
<line x1="475.90" y1="299.20" x2="513.10" y2="299.20" stroke="#111" stroke-width="0.55"/>
<line x1="496.60" y1="270.10" x2="496.60" y2="340.20" stroke="#111" stroke-width="0.55"/>
<path d="M492.9,289.3 h2.2 v2.6 h3.2 v2.2 h-3.2 v2.2 h-2.2 v-2.2 h-2.8 v-2.2 h2.8 z" fill="none" stroke="#111" stroke-width="0.95"/>
<ellipse cx="493.9" cy="299.7" rx="3.6" ry="1.2" fill="#222"/>
<ellipse cx="503.6" cy="292.6" rx="1.3" ry="5.4" transform="rotate(16 503.6 292.6)" fill="none" stroke="#111" stroke-width="0.9"/>
<ellipse cx="501.0" cy="305.8" rx="1.3" ry="5.4" transform="rotate(16 501.0 305.8)" fill="none" stroke="#111" stroke-width="0.9"/>
<polygon points="507.40,310.50 509.20,312.30 507.40,314.10 505.60,312.30" fill="#111" stroke="#111" stroke-width="0.3" stroke-linejoin="miter"/>
<line x1="507.60" y1="312.30" x2="507.60" y2="340.20" stroke="#111" stroke-width="0.55"/>
<line x1="506.10" y1="262.00" x2="506.10" y2="284.40" stroke="#555" stroke-width="0.8"/>
<line x1="510.20" y1="262.00" x2="506.40" y2="284.00" stroke="#111" stroke-width="0.55"/>
<line x1="494.80" y1="266.40" x2="505.00" y2="263.80" stroke="#111" stroke-width="0.55"/>
<polygon points="505.00,263.80 501.82,265.90 501.20,263.48" fill="#111"/>
<line x1="517.70" y1="267.70" x2="510.70" y2="264.40" stroke="#111" stroke-width="0.55"/>
<polygon points="510.70,264.40 514.49,264.80 513.42,267.07" fill="#111"/>
<text x="519.30" y="271.80" font-family="Liberation Sans" font-weight="bold" font-size="4.9" text-anchor="start" fill="#111" stroke="#111" stroke-width="0.18" textLength="7.60" lengthAdjust="spacingAndGlyphs">10°</text>
<line x1="513.10" y1="312.30" x2="530.80" y2="312.30" stroke="#111" stroke-width="0.55"/>
<line x1="513.10" y1="323.50" x2="530.60" y2="323.50" stroke="#111" stroke-width="0.55"/>
<line x1="527.60" y1="300.50" x2="527.60" y2="311.90" stroke="#111" stroke-width="0.55"/>
<polygon points="527.60,311.90 526.35,308.30 528.85,308.30" fill="#111"/>
<line x1="527.80" y1="333.30" x2="527.80" y2="323.90" stroke="#111" stroke-width="0.55"/>
<polygon points="527.80,323.90 529.05,327.50 526.55,327.50" fill="#111"/>
<text x="522.40" y="338.30" font-family="Liberation Sans" font-weight="bold" font-size="4.9" text-anchor="start" fill="#111" stroke="#111" stroke-width="0.18" textLength="11.30" lengthAdjust="spacingAndGlyphs">2.97</text>
<text x="520.80" y="344.80" font-family="Liberation Sans" font-weight="bold" font-size="4.9" text-anchor="start" fill="#111" stroke="#111" stroke-width="0.18" textLength="15.30" lengthAdjust="spacingAndGlyphs">(.117)</text>
<line x1="480.20" y1="325.00" x2="480.20" y2="357.80" stroke="#111" stroke-width="0.55"/>
<line x1="512.50" y1="325.00" x2="512.50" y2="357.80" stroke="#111" stroke-width="0.55"/>
<line x1="480.20" y1="338.80" x2="507.60" y2="338.80" stroke="#111" stroke-width="0.55"/>
<polygon points="496.80,338.80 493.20,340.05 493.20,337.55" fill="#111"/>
<polygon points="507.40,338.80 511.00,337.55 511.00,340.05" fill="#111"/>
<text x="453.30" y="350.20" font-family="Liberation Sans" font-weight="bold" font-size="7.2" text-anchor="start" fill="#111" stroke="#111" stroke-width="0.18" textLength="13.20" lengthAdjust="spacingAndGlyphs">E, F</text>
<text x="490.00" y="354.60" font-family="Liberation Sans" font-weight="bold" font-size="4.9" text-anchor="start" fill="#111" stroke="#111" stroke-width="0.18" textLength="11.80" lengthAdjust="spacingAndGlyphs">7.62</text>
<text x="488.00" y="360.50" font-family="Liberation Sans" font-weight="bold" font-size="4.9" text-anchor="start" fill="#111" stroke="#111" stroke-width="0.18" textLength="16.30" lengthAdjust="spacingAndGlyphs">(.300)</text>
<text x="485.50" y="366.80" font-family="Liberation Sans" font-weight="bold" font-size="4.9" text-anchor="start" fill="#111" stroke="#111" stroke-width="0.18" textLength="21.60" lengthAdjust="spacingAndGlyphs">NOTE 2</text>
<line x1="487.50" y1="356.90" x2="480.40" y2="356.90" stroke="#111" stroke-width="0.55"/>
<polygon points="480.40,356.90 484.00,355.65 484.00,358.15" fill="#111"/>
<line x1="505.00" y1="356.90" x2="512.30" y2="356.90" stroke="#111" stroke-width="0.55"/>
<polygon points="512.30,356.90 508.70,358.15 508.70,355.65" fill="#111"/>
<path d="M110.6,316.5 L110.6,297.1 L139.6,297.1 L139.6,316.5 L135.1,316.5 L132.2,320.1 L117.5,320.1 L114.6,316.5 Z" fill="none" stroke="#111" stroke-width="1.2"/>
<rect x="113.50" y="317.0" width="2.6" height="17.1" fill="#ccc" stroke="#222" stroke-width="0.5"/>
<rect x="133.20" y="317.0" width="2.6" height="17.1" fill="#ccc" stroke="#222" stroke-width="0.5"/>
<line x1="140.00" y1="318.70" x2="140.00" y2="345.10" stroke="#111" stroke-width="0.55"/>
<line x1="115.30" y1="334.50" x2="115.30" y2="359.10" stroke="#111" stroke-width="0.45"/>
<line x1="134.70" y1="334.50" x2="134.70" y2="359.10" stroke="#111" stroke-width="0.45"/>
<line x1="102.00" y1="331.90" x2="113.30" y2="331.90" stroke="#111" stroke-width="0.55"/>
<polygon points="113.30,331.90 109.70,333.15 109.70,330.65" fill="#111"/>
<line x1="124.10" y1="331.90" x2="116.30" y2="331.90" stroke="#111" stroke-width="0.55"/>
<polygon points="116.30,331.90 119.90,330.65 119.90,333.15" fill="#111"/>
<text x="88.10" y="330.40" font-family="Liberation Sans" font-weight="bold" font-size="4.9" text-anchor="start" fill="#111" stroke="#111" stroke-width="0.18" textLength="10.70" lengthAdjust="spacingAndGlyphs">.254</text>
<text x="86.20" y="336.80" font-family="Liberation Sans" font-weight="bold" font-size="4.9" text-anchor="start" fill="#111" stroke="#111" stroke-width="0.18" textLength="14.40" lengthAdjust="spacingAndGlyphs">(.010)</text>
<line x1="124.10" y1="345.10" x2="135.70" y2="345.10" stroke="#111" stroke-width="0.55"/>
<polygon points="135.70,345.10 132.10,346.35 132.10,343.85" fill="#111"/>
<line x1="152.00" y1="345.10" x2="140.20" y2="345.10" stroke="#111" stroke-width="0.55"/>
<polygon points="140.20,345.10 143.80,343.85 143.80,346.35" fill="#111"/>
<text x="155.70" y="343.70" font-family="Liberation Sans" font-weight="bold" font-size="4.9" text-anchor="start" fill="#111" stroke="#111" stroke-width="0.18" textLength="9.60" lengthAdjust="spacingAndGlyphs">1.27</text>
<text x="152.80" y="350.30" font-family="Liberation Sans" font-weight="bold" font-size="4.9" text-anchor="start" fill="#111" stroke="#111" stroke-width="0.18" textLength="15.40" lengthAdjust="spacingAndGlyphs">(.050)</text>
<line x1="100.60" y1="357.90" x2="115.10" y2="357.90" stroke="#111" stroke-width="0.55"/>
<polygon points="115.10,357.90 111.50,359.15 111.50,356.65" fill="#111"/>
<line x1="149.10" y1="357.90" x2="134.90" y2="357.90" stroke="#111" stroke-width="0.55"/>
<polygon points="134.90,357.90 138.50,356.65 138.50,359.15" fill="#111"/>
<text x="120.00" y="356.50" font-family="Liberation Sans" font-weight="bold" font-size="4.9" text-anchor="start" fill="#111" stroke="#111" stroke-width="0.18" textLength="9.30" lengthAdjust="spacingAndGlyphs">5.08</text>
<text x="118.20" y="363.50" font-family="Liberation Sans" font-weight="bold" font-size="4.9" text-anchor="start" fill="#111" stroke="#111" stroke-width="0.18" textLength="13.30" lengthAdjust="spacingAndGlyphs">(.200)</text>
<circle cx="83.20" cy="314.30" r="0.4" fill="#111"/>
<text x="65.20" y="382.10" font-family="Liberation Sans" font-weight="bold" font-size="5.95" text-anchor="start" fill="#111" stroke="#111" stroke-width="0.18">NOTES:</text>
<text x="65.50" y="389.00" font-family="Liberation Sans" font-weight="bold" font-size="5.95" text-anchor="start" fill="#111" stroke="#111" stroke-width="0.18">1. ALL DIMENSIONS IN MILLIMETRES (INCHES).</text>
<text x="65.50" y="395.90" font-family="Liberation Sans" font-weight="bold" font-size="5.95" text-anchor="start" fill="#111" stroke="#111" stroke-width="0.18">2. MAXIMUM.</text>
<text x="65.50" y="402.80" font-family="Liberation Sans" font-weight="bold" font-size="5.95" text-anchor="start" fill="#111" stroke="#111" stroke-width="0.18">3. ALL UNTOLERANCED DIMENSIONS ARE</text>
<text x="72.00" y="409.70" font-family="Liberation Sans" font-weight="bold" font-size="5.95" text-anchor="start" fill="#111" stroke="#111" stroke-width="0.18">FOR REFERENCE ONLY.</text>
<text x="65.50" y="416.60" font-family="Liberation Sans" font-weight="bold" font-size="5.95" text-anchor="start" fill="#111" stroke="#111" stroke-width="0.18">4. REDUNDANT ANODES.</text>
<text x="65.50" y="423.50" font-family="Liberation Sans" font-weight="bold" font-size="5.95" text-anchor="start" fill="#111" stroke="#111" stroke-width="0.18">5. REDUNDANT CATHODES.</text>
<text x="65.50" y="430.40" font-family="Liberation Sans" font-weight="bold" font-size="5.95" text-anchor="start" fill="#111" stroke="#111" stroke-width="0.18">6. FOR HDSP-7400/-7800 SERIES PRODUCT ONLY.</text>
<line x1="222.60" y1="377.40" x2="549.50" y2="377.40" stroke="#111" stroke-width="0.6"/>
<line x1="222.60" y1="466.40" x2="549.50" y2="466.40" stroke="#111" stroke-width="0.6"/>
<line x1="222.60" y1="377.40" x2="222.60" y2="466.40" stroke="#111" stroke-width="0.6"/>
<line x1="549.50" y1="377.40" x2="549.50" y2="466.40" stroke="#111" stroke-width="0.6"/>
<line x1="236.30" y1="377.40" x2="236.30" y2="466.40" stroke="#111" stroke-width="0.6"/>
<line x1="236.30" y1="387.30" x2="549.50" y2="387.30" stroke="#111" stroke-width="0.6"/>
<line x1="222.60" y1="397.10" x2="549.50" y2="397.10" stroke="#111" stroke-width="0.6"/>
<line x1="280.50" y1="387.30" x2="280.50" y2="466.40" stroke="#111" stroke-width="0.6"/>
<line x1="339.70" y1="387.30" x2="339.70" y2="466.40" stroke="#111" stroke-width="0.6"/>
<line x1="385.80" y1="387.30" x2="385.80" y2="466.40" stroke="#111" stroke-width="0.6"/>
<line x1="438.90" y1="387.30" x2="438.90" y2="466.40" stroke="#111" stroke-width="0.6"/>
<line x1="498.90" y1="387.30" x2="498.90" y2="466.40" stroke="#111" stroke-width="0.6"/>
<text x="371.00" y="384.30" font-family="Liberation Sans" font-weight="bold" font-size="5.0" text-anchor="start" fill="#111" stroke="#111" stroke-width="0.18" textLength="30.70" lengthAdjust="spacingAndGlyphs">FUNCTION</text>
<text x="225.50" y="394.90" font-family="Liberation Sans" font-weight="bold" font-size="5.0" text-anchor="start" fill="#111" stroke="#111" stroke-width="0.18" textLength="9.80" lengthAdjust="spacingAndGlyphs">PIN</text>
<text x="258.20" y="394.90" font-family="Liberation Sans" font-weight="bold" font-size="5.0" text-anchor="middle" fill="#111" stroke="#111" stroke-width="0.18">A</text>
<text x="309.80" y="394.90" font-family="Liberation Sans" font-weight="bold" font-size="5.0" text-anchor="middle" fill="#111" stroke="#111" stroke-width="0.18">B</text>
<text x="361.10" y="394.90" font-family="Liberation Sans" font-weight="bold" font-size="5.0" text-anchor="middle" fill="#111" stroke="#111" stroke-width="0.18">C</text>
<text x="411.80" y="394.90" font-family="Liberation Sans" font-weight="bold" font-size="5.0" text-anchor="middle" fill="#111" stroke="#111" stroke-width="0.18">D</text>
<text x="467.50" y="394.90" font-family="Liberation Sans" font-weight="bold" font-size="5.0" text-anchor="middle" fill="#111" stroke="#111" stroke-width="0.18">E</text>
<text x="522.40" y="394.90" font-family="Liberation Sans" font-weight="bold" font-size="5.0" text-anchor="middle" fill="#111" stroke="#111" stroke-width="0.18">F</text>
<text x="232.30" y="403.70" font-family="Liberation Sans" font-weight="bold" font-size="5.0" text-anchor="end" fill="#111" stroke="#111" stroke-width="0.18">1</text>
<text x="232.30" y="410.44" font-family="Liberation Sans" font-weight="bold" font-size="5.0" text-anchor="end" fill="#111" stroke="#111" stroke-width="0.18">2</text>
<text x="232.30" y="417.18" font-family="Liberation Sans" font-weight="bold" font-size="5.0" text-anchor="end" fill="#111" stroke="#111" stroke-width="0.18">3</text>
<text x="232.30" y="423.92" font-family="Liberation Sans" font-weight="bold" font-size="5.0" text-anchor="end" fill="#111" stroke="#111" stroke-width="0.18">4</text>
<text x="232.30" y="430.66" font-family="Liberation Sans" font-weight="bold" font-size="5.0" text-anchor="end" fill="#111" stroke="#111" stroke-width="0.18">5</text>
<text x="232.30" y="437.40" font-family="Liberation Sans" font-weight="bold" font-size="5.0" text-anchor="end" fill="#111" stroke="#111" stroke-width="0.18">6</text>
<text x="232.30" y="444.14" font-family="Liberation Sans" font-weight="bold" font-size="5.0" text-anchor="end" fill="#111" stroke="#111" stroke-width="0.18">7</text>
<text x="232.30" y="450.88" font-family="Liberation Sans" font-weight="bold" font-size="5.0" text-anchor="end" fill="#111" stroke="#111" stroke-width="0.18">8</text>
<text x="232.30" y="457.62" font-family="Liberation Sans" font-weight="bold" font-size="5.0" text-anchor="end" fill="#111" stroke="#111" stroke-width="0.18">9</text>
<text x="232.30" y="464.36" font-family="Liberation Sans" font-weight="bold" font-size="5.0" text-anchor="end" fill="#111" stroke="#111" stroke-width="0.18">10</text>
<text x="238.80" y="403.70" font-family="Liberation Sans" font-weight="bold" font-size="5.5" text-anchor="start" fill="#111" stroke="#111" stroke-width="0.18" letter-spacing="0.15">ANODE</text>
<text x="259.81" y="402.20" font-family="Liberation Sans" font-weight="bold" font-size="3.9" text-anchor="start" fill="#111" stroke="#111" stroke-width="0.18">[4]</text>
<text x="238.80" y="410.44" font-family="Liberation Sans" font-weight="bold" font-size="5.5" fill="#111" stroke="#111" stroke-width="0.18" letter-spacing="0.15" xml:space="preserve">CATHODE  f</text>
<text x="238.80" y="417.18" font-family="Liberation Sans" font-weight="bold" font-size="5.5" fill="#111" stroke="#111" stroke-width="0.18" letter-spacing="0.15" xml:space="preserve">CATHODE  g</text>
<text x="238.80" y="423.92" font-family="Liberation Sans" font-weight="bold" font-size="5.5" fill="#111" stroke="#111" stroke-width="0.18" letter-spacing="0.15" xml:space="preserve">CATHODE  e</text>
<text x="238.80" y="430.66" font-family="Liberation Sans" font-weight="bold" font-size="5.5" fill="#111" stroke="#111" stroke-width="0.18" letter-spacing="0.15" xml:space="preserve">CATHODE  d</text>
<text x="238.80" y="437.40" font-family="Liberation Sans" font-weight="bold" font-size="5.5" text-anchor="start" fill="#111" stroke="#111" stroke-width="0.18" letter-spacing="0.15">ANODE</text>
<text x="259.81" y="435.90" font-family="Liberation Sans" font-weight="bold" font-size="3.9" text-anchor="start" fill="#111" stroke="#111" stroke-width="0.18">[4]</text>
<text x="238.80" y="444.14" font-family="Liberation Sans" font-weight="bold" font-size="5.5" fill="#111" stroke="#111" stroke-width="0.18" letter-spacing="0.15" xml:space="preserve">CATHODE  DP</text>
<text x="238.80" y="450.88" font-family="Liberation Sans" font-weight="bold" font-size="5.5" fill="#111" stroke="#111" stroke-width="0.18" letter-spacing="0.15" xml:space="preserve">CATHODE  c</text>
<text x="238.80" y="457.62" font-family="Liberation Sans" font-weight="bold" font-size="5.5" fill="#111" stroke="#111" stroke-width="0.18" letter-spacing="0.15" xml:space="preserve">CATHODE  b</text>
<text x="238.80" y="464.36" font-family="Liberation Sans" font-weight="bold" font-size="5.5" fill="#111" stroke="#111" stroke-width="0.18" letter-spacing="0.15" xml:space="preserve">CATHODE  a</text>
<text x="285.10" y="403.70" font-family="Liberation Sans" font-weight="bold" font-size="5.5" fill="#111" stroke="#111" stroke-width="0.18" letter-spacing="0.15" xml:space="preserve">CATHODE  COLON</text>
<text x="285.10" y="410.44" font-family="Liberation Sans" font-weight="bold" font-size="5.5" fill="#111" stroke="#111" stroke-width="0.18" letter-spacing="0.15" xml:space="preserve">CATHODE  f</text>
<text x="285.10" y="417.18" font-family="Liberation Sans" font-weight="bold" font-size="5.5" fill="#111" stroke="#111" stroke-width="0.18" letter-spacing="0.15" xml:space="preserve">CATHODE  g</text>
<text x="285.10" y="423.92" font-family="Liberation Sans" font-weight="bold" font-size="5.5" fill="#111" stroke="#111" stroke-width="0.18" letter-spacing="0.15" xml:space="preserve">CATHODE  e</text>
<text x="285.10" y="430.66" font-family="Liberation Sans" font-weight="bold" font-size="5.5" fill="#111" stroke="#111" stroke-width="0.18" letter-spacing="0.15" xml:space="preserve">CATHODE  d</text>
<text x="285.10" y="437.40" font-family="Liberation Sans" font-weight="bold" font-size="5.5" fill="#111" stroke="#111" stroke-width="0.18" letter-spacing="0.15" xml:space="preserve">ANODE</text>
<text x="285.10" y="444.14" font-family="Liberation Sans" font-weight="bold" font-size="5.5" fill="#111" stroke="#111" stroke-width="0.18" letter-spacing="0.15" xml:space="preserve">CATHODE  DP</text>
<text x="285.10" y="450.88" font-family="Liberation Sans" font-weight="bold" font-size="5.5" fill="#111" stroke="#111" stroke-width="0.18" letter-spacing="0.15" xml:space="preserve">CATHODE  c</text>
<text x="285.10" y="457.62" font-family="Liberation Sans" font-weight="bold" font-size="5.5" fill="#111" stroke="#111" stroke-width="0.18" letter-spacing="0.15" xml:space="preserve">CATHODE  b</text>
<text x="285.10" y="464.36" font-family="Liberation Sans" font-weight="bold" font-size="5.5" fill="#111" stroke="#111" stroke-width="0.18" letter-spacing="0.15" xml:space="preserve">CATHODE  a</text>
<text x="344.80" y="403.70" font-family="Liberation Sans" font-weight="bold" font-size="5.5" text-anchor="start" fill="#111" stroke="#111" stroke-width="0.18" letter-spacing="0.15">CATHODE</text>
<text x="373.04" y="402.20" font-family="Liberation Sans" font-weight="bold" font-size="3.9" text-anchor="start" fill="#111" stroke="#111" stroke-width="0.18">[5]</text>
<text x="344.80" y="410.44" font-family="Liberation Sans" font-weight="bold" font-size="5.5" fill="#111" stroke="#111" stroke-width="0.18" letter-spacing="0.15" xml:space="preserve">ANODE  f</text>
<text x="344.80" y="417.18" font-family="Liberation Sans" font-weight="bold" font-size="5.5" fill="#111" stroke="#111" stroke-width="0.18" letter-spacing="0.15" xml:space="preserve">ANODE  g</text>
<text x="344.80" y="423.92" font-family="Liberation Sans" font-weight="bold" font-size="5.5" fill="#111" stroke="#111" stroke-width="0.18" letter-spacing="0.15" xml:space="preserve">ANODE  e</text>
<text x="344.80" y="430.66" font-family="Liberation Sans" font-weight="bold" font-size="5.5" fill="#111" stroke="#111" stroke-width="0.18" letter-spacing="0.15" xml:space="preserve">ANODE  d</text>
<text x="344.80" y="437.40" font-family="Liberation Sans" font-weight="bold" font-size="5.5" text-anchor="start" fill="#111" stroke="#111" stroke-width="0.18" letter-spacing="0.15">CATHODE</text>
<text x="373.04" y="435.90" font-family="Liberation Sans" font-weight="bold" font-size="3.9" text-anchor="start" fill="#111" stroke="#111" stroke-width="0.18">[5]</text>
<text x="344.80" y="444.14" font-family="Liberation Sans" font-weight="bold" font-size="5.5" fill="#111" stroke="#111" stroke-width="0.18" letter-spacing="0.15" xml:space="preserve">ANODE  DP</text>
<text x="344.80" y="450.88" font-family="Liberation Sans" font-weight="bold" font-size="5.5" fill="#111" stroke="#111" stroke-width="0.18" letter-spacing="0.15" xml:space="preserve">ANODE  c</text>
<text x="344.80" y="457.62" font-family="Liberation Sans" font-weight="bold" font-size="5.5" fill="#111" stroke="#111" stroke-width="0.18" letter-spacing="0.15" xml:space="preserve">ANODE  b</text>
<text x="344.80" y="464.36" font-family="Liberation Sans" font-weight="bold" font-size="5.5" fill="#111" stroke="#111" stroke-width="0.18" letter-spacing="0.15" xml:space="preserve">ANODE  a</text>
<text x="391.40" y="403.70" font-family="Liberation Sans" font-weight="bold" font-size="5.5" fill="#111" stroke="#111" stroke-width="0.18" letter-spacing="0.15" xml:space="preserve">ANODE  COLON</text>
<text x="391.40" y="410.44" font-family="Liberation Sans" font-weight="bold" font-size="5.5" fill="#111" stroke="#111" stroke-width="0.18" letter-spacing="0.15" xml:space="preserve">ANODE  f</text>
<text x="391.40" y="417.18" font-family="Liberation Sans" font-weight="bold" font-size="5.5" fill="#111" stroke="#111" stroke-width="0.18" letter-spacing="0.15" xml:space="preserve">ANODE  g</text>
<text x="391.40" y="423.92" font-family="Liberation Sans" font-weight="bold" font-size="5.5" fill="#111" stroke="#111" stroke-width="0.18" letter-spacing="0.15" xml:space="preserve">ANODE  e</text>
<text x="391.40" y="430.66" font-family="Liberation Sans" font-weight="bold" font-size="5.5" fill="#111" stroke="#111" stroke-width="0.18" letter-spacing="0.15" xml:space="preserve">ANODE  d</text>
<text x="391.40" y="437.40" font-family="Liberation Sans" font-weight="bold" font-size="5.5" fill="#111" stroke="#111" stroke-width="0.18" letter-spacing="0.15" xml:space="preserve">CATHODE</text>
<text x="391.40" y="444.14" font-family="Liberation Sans" font-weight="bold" font-size="5.5" fill="#111" stroke="#111" stroke-width="0.18" letter-spacing="0.15" xml:space="preserve">ANODE  DP</text>
<text x="391.40" y="450.88" font-family="Liberation Sans" font-weight="bold" font-size="5.5" fill="#111" stroke="#111" stroke-width="0.18" letter-spacing="0.15" xml:space="preserve">ANODE  c</text>
<text x="391.40" y="457.62" font-family="Liberation Sans" font-weight="bold" font-size="5.5" fill="#111" stroke="#111" stroke-width="0.18" letter-spacing="0.15" xml:space="preserve">ANODE  b</text>
<text x="391.40" y="464.36" font-family="Liberation Sans" font-weight="bold" font-size="5.5" fill="#111" stroke="#111" stroke-width="0.18" letter-spacing="0.15" xml:space="preserve">ANODE  a</text>
<text x="443.80" y="403.70" font-family="Liberation Sans" font-weight="bold" font-size="5.5" text-anchor="start" fill="#111" stroke="#111" stroke-width="0.18" letter-spacing="0.15">ANODE</text>
<text x="464.81" y="402.20" font-family="Liberation Sans" font-weight="bold" font-size="3.9" text-anchor="start" fill="#111" stroke="#111" stroke-width="0.18">[4]</text>
<text x="443.80" y="410.44" font-family="Liberation Sans" font-weight="bold" font-size="5.5" fill="#111" stroke="#111" stroke-width="0.18" letter-spacing="0.15" xml:space="preserve">CATHODE  PLUS</text>
<text x="443.80" y="417.18" font-family="Liberation Sans" font-weight="bold" font-size="5.5" fill="#111" stroke="#111" stroke-width="0.18" letter-spacing="0.15" xml:space="preserve">CATHODE  MINUS</text>
<text x="443.80" y="423.92" font-family="Liberation Sans" font-weight="bold" font-size="5.5" fill="#111" stroke="#111" stroke-width="0.18" letter-spacing="0.15" xml:space="preserve">NC</text>
<text x="443.80" y="430.66" font-family="Liberation Sans" font-weight="bold" font-size="5.5" fill="#111" stroke="#111" stroke-width="0.18" letter-spacing="0.15" xml:space="preserve">NC</text>
<text x="443.80" y="437.40" font-family="Liberation Sans" font-weight="bold" font-size="5.5" text-anchor="start" fill="#111" stroke="#111" stroke-width="0.18" letter-spacing="0.15">ANODE</text>
<text x="464.81" y="435.90" font-family="Liberation Sans" font-weight="bold" font-size="3.9" text-anchor="start" fill="#111" stroke="#111" stroke-width="0.18">[4]</text>
<text x="443.80" y="444.14" font-family="Liberation Sans" font-weight="bold" font-size="5.5" fill="#111" stroke="#111" stroke-width="0.18" letter-spacing="0.15" xml:space="preserve">CATHODE  DP</text>
<text x="443.80" y="450.88" font-family="Liberation Sans" font-weight="bold" font-size="5.5" fill="#111" stroke="#111" stroke-width="0.18" letter-spacing="0.15" xml:space="preserve">CATHODE  c</text>
<text x="443.80" y="457.62" font-family="Liberation Sans" font-weight="bold" font-size="5.5" fill="#111" stroke="#111" stroke-width="0.18" letter-spacing="0.15" xml:space="preserve">CATHODE  b</text>
<text x="443.80" y="464.36" font-family="Liberation Sans" font-weight="bold" font-size="5.5" fill="#111" stroke="#111" stroke-width="0.18" letter-spacing="0.15" xml:space="preserve">NC</text>
<text x="503.50" y="403.70" font-family="Liberation Sans" font-weight="bold" font-size="5.5" text-anchor="start" fill="#111" stroke="#111" stroke-width="0.18" letter-spacing="0.15">CATHODE</text>
<text x="531.74" y="402.20" font-family="Liberation Sans" font-weight="bold" font-size="3.9" text-anchor="start" fill="#111" stroke="#111" stroke-width="0.18">[5]</text>
<text x="503.50" y="410.44" font-family="Liberation Sans" font-weight="bold" font-size="5.5" fill="#111" stroke="#111" stroke-width="0.18" letter-spacing="0.15" xml:space="preserve">ANODE  PLUS</text>
<text x="503.50" y="417.18" font-family="Liberation Sans" font-weight="bold" font-size="5.5" fill="#111" stroke="#111" stroke-width="0.18" letter-spacing="0.15" xml:space="preserve">ANODE  MINUS</text>
<text x="503.50" y="423.92" font-family="Liberation Sans" font-weight="bold" font-size="5.5" fill="#111" stroke="#111" stroke-width="0.18" letter-spacing="0.15" xml:space="preserve">NC</text>
<text x="503.50" y="430.66" font-family="Liberation Sans" font-weight="bold" font-size="5.5" fill="#111" stroke="#111" stroke-width="0.18" letter-spacing="0.15" xml:space="preserve">NC</text>
<text x="503.50" y="437.40" font-family="Liberation Sans" font-weight="bold" font-size="5.5" text-anchor="start" fill="#111" stroke="#111" stroke-width="0.18" letter-spacing="0.15">CATHODE</text>
<text x="531.74" y="435.90" font-family="Liberation Sans" font-weight="bold" font-size="3.9" text-anchor="start" fill="#111" stroke="#111" stroke-width="0.18">[5]</text>
<text x="503.50" y="444.14" font-family="Liberation Sans" font-weight="bold" font-size="5.5" fill="#111" stroke="#111" stroke-width="0.18" letter-spacing="0.15" xml:space="preserve">ANODE  DP</text>
<text x="503.50" y="450.88" font-family="Liberation Sans" font-weight="bold" font-size="5.5" fill="#111" stroke="#111" stroke-width="0.18" letter-spacing="0.15" xml:space="preserve">ANODE  c</text>
<text x="503.50" y="457.62" font-family="Liberation Sans" font-weight="bold" font-size="5.5" fill="#111" stroke="#111" stroke-width="0.18" letter-spacing="0.15" xml:space="preserve">ANODE  b</text>
<text x="503.50" y="464.36" font-family="Liberation Sans" font-weight="bold" font-size="5.5" fill="#111" stroke="#111" stroke-width="0.18" letter-spacing="0.15" xml:space="preserve">NC</text>
</svg>
</body></html>
